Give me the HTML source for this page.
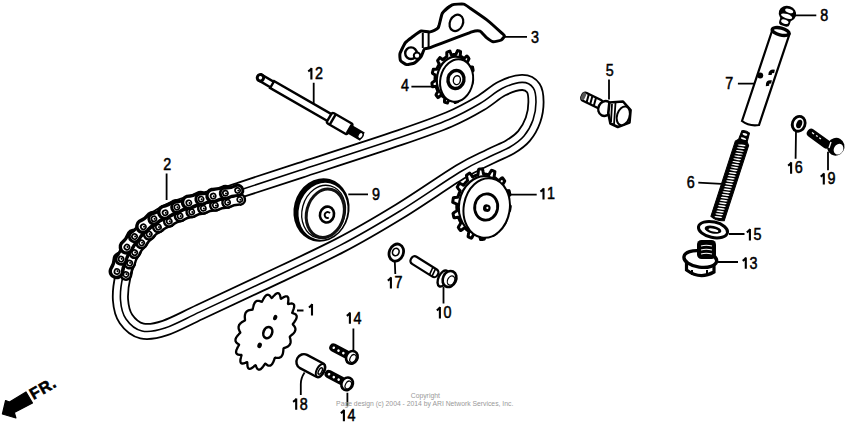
<!DOCTYPE html>
<html><head><meta charset="utf-8"><style>
html,body{margin:0;padding:0;background:#fff;}
body{width:850px;height:428px;overflow:hidden;}
svg{display:block;}
.lb{font-family:"Liberation Sans",sans-serif;font-weight:normal;font-size:15.6px;fill:#000;stroke:#000;stroke-width:0.5px;}
.fr{font-family:"Liberation Sans",sans-serif;font-weight:bold;font-size:16px;fill:#000;stroke:#000;stroke-width:0.6px;letter-spacing:0.8px;}
.cp{font-family:"Liberation Sans",sans-serif;font-size:6.8px;fill:#999;}
</style></head><body>
<svg width="850" height="428" viewBox="0 0 850 428">
<rect width="850" height="428" fill="#fff"/>
<path d="M240,190 C253.5,185.6 273.3,179.1 300,170.3 C326.7,161.6 375.2,146 400,137.5 C424.8,129 435.7,125.2 449,119.5 C462.3,113.8 471.2,108.7 480,103.5 C488.8,98.3 495,92 502,88.5 C509,85 516.8,82.5 522,82.4 C527.2,82.3 531,84.7 533.3,88 C535.6,91.3 536,96.7 536,102 C536,107.3 535,114.3 533,120 C531,125.7 527.8,131.5 524,136 C520.2,140.5 515.7,143.6 510,147 C504.3,150.4 498.3,152.3 490,156.5 C481.7,160.7 475,162.9 460,172 C445,181.1 420,198.8 400,211 C380,223.2 363.3,233.3 340,245.4 C316.7,257.5 283.3,272.7 260,283.8 C236.7,294.9 215.8,304.5 200,311.9 C184.2,319.3 174.7,324.8 165,328 C155.3,331.2 148.5,332.5 142,331 C135.5,329.5 129.6,324.2 126,319 C122.4,313.8 121,307.2 120.5,300 C120,292.8 120.9,285 123,276 C125.1,267 128.3,254.8 133,246 C137.7,237.2 144.5,229 151,223 C157.5,217 164.5,213.5 172,210 C179.5,206.5 188.2,204.2 196,202 C203.8,199.8 211.7,198.5 219,196.5 C226.3,194.5 226.5,194.4 240,190 Z" fill="none" stroke="#000" stroke-width="17"/>
<path d="M240,190 C253.5,185.6 273.3,179.1 300,170.3 C326.7,161.6 375.2,146 400,137.5 C424.8,129 435.7,125.2 449,119.5 C462.3,113.8 471.2,108.7 480,103.5 C488.8,98.3 495,92 502,88.5 C509,85 516.8,82.5 522,82.4 C527.2,82.3 531,84.7 533.3,88 C535.6,91.3 536,96.7 536,102 C536,107.3 535,114.3 533,120 C531,125.7 527.8,131.5 524,136 C520.2,140.5 515.7,143.6 510,147 C504.3,150.4 498.3,152.3 490,156.5 C481.7,160.7 475,162.9 460,172 C445,181.1 420,198.8 400,211 C380,223.2 363.3,233.3 340,245.4 C316.7,257.5 283.3,272.7 260,283.8 C236.7,294.9 215.8,304.5 200,311.9 C184.2,319.3 174.7,324.8 165,328 C155.3,331.2 148.5,332.5 142,331 C135.5,329.5 129.6,324.2 126,319 C122.4,313.8 121,307.2 120.5,300 C120,292.8 120.9,285 123,276 C125.1,267 128.3,254.8 133,246 C137.7,237.2 144.5,229 151,223 C157.5,217 164.5,213.5 172,210 C179.5,206.5 188.2,204.2 196,202 C203.8,199.8 211.7,198.5 219,196.5 C226.3,194.5 226.5,194.4 240,190 Z" fill="none" stroke="#fff" stroke-width="13.4"/>
<path d="M240,190 C253.5,185.6 273.3,179.1 300,170.3 C326.7,161.6 375.2,146 400,137.5 C424.8,129 435.7,125.2 449,119.5 C462.3,113.8 471.2,108.7 480,103.5 C488.8,98.3 495,92 502,88.5 C509,85 516.8,82.5 522,82.4 C527.2,82.3 531,84.7 533.3,88 C535.6,91.3 536,96.7 536,102 C536,107.3 535,114.3 533,120 C531,125.7 527.8,131.5 524,136 C520.2,140.5 515.7,143.6 510,147 C504.3,150.4 498.3,152.3 490,156.5 C481.7,160.7 475,162.9 460,172 C445,181.1 420,198.8 400,211 C380,223.2 363.3,233.3 340,245.4 C316.7,257.5 283.3,272.7 260,283.8 C236.7,294.9 215.8,304.5 200,311.9 C184.2,319.3 174.7,324.8 165,328 C155.3,331.2 148.5,332.5 142,331 C135.5,329.5 129.6,324.2 126,319 C122.4,313.8 121,307.2 120.5,300 C120,292.8 120.9,285 123,276 C125.1,267 128.3,254.8 133,246 C137.7,237.2 144.5,229 151,223 C157.5,217 164.5,213.5 172,210 C179.5,206.5 188.2,204.2 196,202 C203.8,199.8 211.7,198.5 219,196.5 C226.3,194.5 226.5,194.4 240,190 Z" fill="none" stroke="#000" stroke-width="1.6"/>
<g><g transform="translate(121.5,273) rotate(-71.8)"><path d="M0,-0.5 C4.2,0.7 8.3,0.7 12.5,-0.5 A5.2,5.2 0 0 1 12.5,9.9 C8.3,8.7 4.2,8.7 0,9.9 A5.2,5.2 0 0 1 0,-0.5 Z" fill="#fff" stroke="#000" stroke-width="2.5"/></g><g transform="translate(125.4,261.1) rotate(-64.3)"><path d="M0,-0.5 C4.2,0.7 8.3,0.7 12.5,-0.5 A5.2,5.2 0 0 1 12.5,9.9 C8.3,8.7 4.2,8.7 0,9.9 A5.2,5.2 0 0 1 0,-0.5 Z" fill="#fff" stroke="#000" stroke-width="2.5"/></g><g transform="translate(130.8,249.9) rotate(-54.5)"><path d="M0,-0.5 C4.2,0.7 8.3,0.7 12.5,-0.5 A5.2,5.2 0 0 1 12.5,9.9 C8.3,8.7 4.2,8.7 0,9.9 A5.2,5.2 0 0 1 0,-0.5 Z" fill="#fff" stroke="#000" stroke-width="2.5"/></g><g transform="translate(138.1,239.7) rotate(-48)"><path d="M0,-0.5 C4.1,0.7 8.2,0.7 12.4,-0.5 A5.2,5.2 0 0 1 12.4,9.9 C8.2,8.7 4.1,8.7 0,9.9 A5.2,5.2 0 0 1 0,-0.5 Z" fill="#fff" stroke="#000" stroke-width="2.5"/></g><g transform="translate(146.3,230.5) rotate(-37.7)"><path d="M0,-0.5 C4.2,0.7 8.3,0.7 12.5,-0.5 A5.2,5.2 0 0 1 12.5,9.9 C8.3,8.7 4.2,8.7 0,9.9 A5.2,5.2 0 0 1 0,-0.5 Z" fill="#fff" stroke="#000" stroke-width="2.5"/></g><g transform="translate(156.2,222.9) rotate(-28.1)"><path d="M0,-0.5 C4.2,0.7 8.3,0.7 12.5,-0.5 A5.2,5.2 0 0 1 12.5,9.9 C8.3,8.7 4.2,8.7 0,9.9 A5.2,5.2 0 0 1 0,-0.5 Z" fill="#fff" stroke="#000" stroke-width="2.5"/></g><g transform="translate(167.2,217) rotate(-25.4)"><path d="M0,-0.5 C4.2,0.7 8.3,0.7 12.5,-0.5 A5.2,5.2 0 0 1 12.5,9.9 C8.3,8.7 4.2,8.7 0,9.9 A5.2,5.2 0 0 1 0,-0.5 Z" fill="#fff" stroke="#000" stroke-width="2.5"/></g><g transform="translate(178.5,211.6) rotate(-19.7)"><path d="M0,-0.5 C4.2,0.7 8.3,0.7 12.5,-0.5 A5.2,5.2 0 0 1 12.5,9.9 C8.3,8.7 4.2,8.7 0,9.9 A5.2,5.2 0 0 1 0,-0.5 Z" fill="#fff" stroke="#000" stroke-width="2.5"/></g><g transform="translate(190.3,207.4) rotate(-17.3)"><path d="M0,-0.5 C4.2,0.7 8.3,0.7 12.5,-0.5 A5.2,5.2 0 0 1 12.5,9.9 C8.3,8.7 4.2,8.7 0,9.9 A5.2,5.2 0 0 1 0,-0.5 Z" fill="#fff" stroke="#000" stroke-width="2.5"/></g><g transform="translate(202.2,203.7) rotate(-14)"><path d="M0,-0.5 C4.2,0.7 8.3,0.7 12.5,-0.5 A5.2,5.2 0 0 1 12.5,9.9 C8.3,8.7 4.2,8.7 0,9.9 A5.2,5.2 0 0 1 0,-0.5 Z" fill="#fff" stroke="#000" stroke-width="2.5"/></g><g transform="translate(214.3,200.7) rotate(-13.4)"><path d="M0,-0.5 C4.2,0.7 8.3,0.7 12.5,-0.5 A5.2,5.2 0 0 1 12.5,9.9 C8.3,8.7 4.2,8.7 0,9.9 A5.2,5.2 0 0 1 0,-0.5 Z" fill="#fff" stroke="#000" stroke-width="2.5"/></g><g transform="translate(226.5,197.8) rotate(-13)"><path d="M0,-0.5 C4.2,0.7 8.3,0.7 12.5,-0.5 A5.2,5.2 0 0 1 12.5,9.9 C8.3,8.7 4.2,8.7 0,9.9 A5.2,5.2 0 0 1 0,-0.5 Z" fill="#fff" stroke="#000" stroke-width="2.5"/></g><g transform="translate(121.5,273) rotate(-71.8)"><path d="M0,-11.5 C4.2,-10.3 8.3,-10.3 12.5,-11.5 A6.2,6.2 0 0 1 12.5,0.9 C8.3,-0.3 4.2,-0.3 0,0.9 A6.2,6.2 0 0 1 0,-11.5 Z" fill="#fff" stroke="#000" stroke-width="3.4"/></g><g transform="translate(125.4,261.1) rotate(-64.3)"><path d="M0,-9.9 C4.2,-8.7 8.3,-8.7 12.5,-9.9 A5.2,5.2 0 0 1 12.5,0.5 C8.3,-0.7 4.2,-0.7 0,0.5 A5.2,5.2 0 0 1 0,-9.9 Z" fill="#fff" stroke="#000" stroke-width="3"/></g><g transform="translate(130.8,249.9) rotate(-54.5)"><path d="M0,-11.5 C4.2,-10.3 8.3,-10.3 12.5,-11.5 A6.2,6.2 0 0 1 12.5,0.9 C8.3,-0.3 4.2,-0.3 0,0.9 A6.2,6.2 0 0 1 0,-11.5 Z" fill="#fff" stroke="#000" stroke-width="3.4"/></g><g transform="translate(138.1,239.7) rotate(-48)"><path d="M0,-9.9 C4.1,-8.7 8.2,-8.7 12.4,-9.9 A5.2,5.2 0 0 1 12.4,0.5 C8.2,-0.7 4.1,-0.7 0,0.5 A5.2,5.2 0 0 1 0,-9.9 Z" fill="#fff" stroke="#000" stroke-width="3"/></g><g transform="translate(146.3,230.5) rotate(-37.7)"><path d="M0,-11.5 C4.2,-10.3 8.3,-10.3 12.5,-11.5 A6.2,6.2 0 0 1 12.5,0.9 C8.3,-0.3 4.2,-0.3 0,0.9 A6.2,6.2 0 0 1 0,-11.5 Z" fill="#fff" stroke="#000" stroke-width="3.4"/></g><g transform="translate(156.2,222.9) rotate(-28.1)"><path d="M0,-9.9 C4.2,-8.7 8.3,-8.7 12.5,-9.9 A5.2,5.2 0 0 1 12.5,0.5 C8.3,-0.7 4.2,-0.7 0,0.5 A5.2,5.2 0 0 1 0,-9.9 Z" fill="#fff" stroke="#000" stroke-width="3"/></g><g transform="translate(167.2,217) rotate(-25.4)"><path d="M0,-11.5 C4.2,-10.3 8.3,-10.3 12.5,-11.5 A6.2,6.2 0 0 1 12.5,0.9 C8.3,-0.3 4.2,-0.3 0,0.9 A6.2,6.2 0 0 1 0,-11.5 Z" fill="#fff" stroke="#000" stroke-width="3.4"/></g><g transform="translate(178.5,211.6) rotate(-19.7)"><path d="M0,-9.9 C4.2,-8.7 8.3,-8.7 12.5,-9.9 A5.2,5.2 0 0 1 12.5,0.5 C8.3,-0.7 4.2,-0.7 0,0.5 A5.2,5.2 0 0 1 0,-9.9 Z" fill="#fff" stroke="#000" stroke-width="3"/></g><g transform="translate(190.3,207.4) rotate(-17.3)"><path d="M0,-11.5 C4.2,-10.3 8.3,-10.3 12.5,-11.5 A6.2,6.2 0 0 1 12.5,0.9 C8.3,-0.3 4.2,-0.3 0,0.9 A6.2,6.2 0 0 1 0,-11.5 Z" fill="#fff" stroke="#000" stroke-width="3.4"/></g><g transform="translate(202.2,203.7) rotate(-14)"><path d="M0,-9.9 C4.2,-8.7 8.3,-8.7 12.5,-9.9 A5.2,5.2 0 0 1 12.5,0.5 C8.3,-0.7 4.2,-0.7 0,0.5 A5.2,5.2 0 0 1 0,-9.9 Z" fill="#fff" stroke="#000" stroke-width="3"/></g><g transform="translate(214.3,200.7) rotate(-13.4)"><path d="M0,-11.5 C4.2,-10.3 8.3,-10.3 12.5,-11.5 A6.2,6.2 0 0 1 12.5,0.9 C8.3,-0.3 4.2,-0.3 0,0.9 A6.2,6.2 0 0 1 0,-11.5 Z" fill="#fff" stroke="#000" stroke-width="3.4"/></g><g transform="translate(226.5,197.8) rotate(-13)"><path d="M0,-9.9 C4.2,-8.7 8.3,-8.7 12.5,-9.9 A5.2,5.2 0 0 1 12.5,0.5 C8.3,-0.7 4.2,-0.7 0,0.5 A5.2,5.2 0 0 1 0,-9.9 Z" fill="#fff" stroke="#000" stroke-width="3"/></g><g transform="translate(121.5,273) rotate(-71.8)"><circle cx="0" cy="-4.7" r="2.6" fill="#fff" stroke="#000" stroke-width="1.7"/><circle cx="0.5" cy="-4.4" r="1.0" fill="#000"/></g><g transform="translate(121.5,273) rotate(-71.8)"><circle cx="0" cy="4.7" r="2.6" fill="#fff" stroke="#000" stroke-width="1.7"/><circle cx="0.5" cy="5" r="1.0" fill="#000"/></g><g transform="translate(125.4,261.1) rotate(-64.3)"><circle cx="0" cy="-4.7" r="2.6" fill="#fff" stroke="#000" stroke-width="1.7"/><circle cx="0.5" cy="-4.4" r="1.0" fill="#000"/></g><g transform="translate(125.4,261.1) rotate(-64.3)"><circle cx="0" cy="4.7" r="2.6" fill="#fff" stroke="#000" stroke-width="1.7"/><circle cx="0.5" cy="5" r="1.0" fill="#000"/></g><g transform="translate(130.8,249.9) rotate(-54.5)"><circle cx="0" cy="-4.7" r="2.6" fill="#fff" stroke="#000" stroke-width="1.7"/><circle cx="0.5" cy="-4.4" r="1.0" fill="#000"/></g><g transform="translate(130.8,249.9) rotate(-54.5)"><circle cx="0" cy="4.7" r="2.6" fill="#fff" stroke="#000" stroke-width="1.7"/><circle cx="0.5" cy="5" r="1.0" fill="#000"/></g><g transform="translate(138.1,239.7) rotate(-48)"><circle cx="0" cy="-4.7" r="2.6" fill="#fff" stroke="#000" stroke-width="1.7"/><circle cx="0.5" cy="-4.4" r="1.0" fill="#000"/></g><g transform="translate(138.1,239.7) rotate(-48)"><circle cx="0" cy="4.7" r="2.6" fill="#fff" stroke="#000" stroke-width="1.7"/><circle cx="0.5" cy="5" r="1.0" fill="#000"/></g><g transform="translate(146.3,230.5) rotate(-37.7)"><circle cx="0" cy="-4.7" r="2.6" fill="#fff" stroke="#000" stroke-width="1.7"/><circle cx="0.5" cy="-4.4" r="1.0" fill="#000"/></g><g transform="translate(146.3,230.5) rotate(-37.7)"><circle cx="0" cy="4.7" r="2.6" fill="#fff" stroke="#000" stroke-width="1.7"/><circle cx="0.5" cy="5" r="1.0" fill="#000"/></g><g transform="translate(156.2,222.9) rotate(-28.1)"><circle cx="0" cy="-4.7" r="2.6" fill="#fff" stroke="#000" stroke-width="1.7"/><circle cx="0.5" cy="-4.4" r="1.0" fill="#000"/></g><g transform="translate(156.2,222.9) rotate(-28.1)"><circle cx="0" cy="4.7" r="2.6" fill="#fff" stroke="#000" stroke-width="1.7"/><circle cx="0.5" cy="5" r="1.0" fill="#000"/></g><g transform="translate(167.2,217) rotate(-25.4)"><circle cx="0" cy="-4.7" r="2.6" fill="#fff" stroke="#000" stroke-width="1.7"/><circle cx="0.5" cy="-4.4" r="1.0" fill="#000"/></g><g transform="translate(167.2,217) rotate(-25.4)"><circle cx="0" cy="4.7" r="2.6" fill="#fff" stroke="#000" stroke-width="1.7"/><circle cx="0.5" cy="5" r="1.0" fill="#000"/></g><g transform="translate(178.5,211.6) rotate(-19.7)"><circle cx="0" cy="-4.7" r="2.6" fill="#fff" stroke="#000" stroke-width="1.7"/><circle cx="0.5" cy="-4.4" r="1.0" fill="#000"/></g><g transform="translate(178.5,211.6) rotate(-19.7)"><circle cx="0" cy="4.7" r="2.6" fill="#fff" stroke="#000" stroke-width="1.7"/><circle cx="0.5" cy="5" r="1.0" fill="#000"/></g><g transform="translate(190.3,207.4) rotate(-17.3)"><circle cx="0" cy="-4.7" r="2.6" fill="#fff" stroke="#000" stroke-width="1.7"/><circle cx="0.5" cy="-4.4" r="1.0" fill="#000"/></g><g transform="translate(190.3,207.4) rotate(-17.3)"><circle cx="0" cy="4.7" r="2.6" fill="#fff" stroke="#000" stroke-width="1.7"/><circle cx="0.5" cy="5" r="1.0" fill="#000"/></g><g transform="translate(202.2,203.7) rotate(-14)"><circle cx="0" cy="-4.7" r="2.6" fill="#fff" stroke="#000" stroke-width="1.7"/><circle cx="0.5" cy="-4.4" r="1.0" fill="#000"/></g><g transform="translate(202.2,203.7) rotate(-14)"><circle cx="0" cy="4.7" r="2.6" fill="#fff" stroke="#000" stroke-width="1.7"/><circle cx="0.5" cy="5" r="1.0" fill="#000"/></g><g transform="translate(214.3,200.7) rotate(-13.4)"><circle cx="0" cy="-4.7" r="2.6" fill="#fff" stroke="#000" stroke-width="1.7"/><circle cx="0.5" cy="-4.4" r="1.0" fill="#000"/></g><g transform="translate(214.3,200.7) rotate(-13.4)"><circle cx="0" cy="4.7" r="2.6" fill="#fff" stroke="#000" stroke-width="1.7"/><circle cx="0.5" cy="5" r="1.0" fill="#000"/></g><g transform="translate(226.5,197.8) rotate(-13)"><circle cx="0" cy="-4.7" r="2.6" fill="#fff" stroke="#000" stroke-width="1.7"/><circle cx="0.5" cy="-4.4" r="1.0" fill="#000"/></g><g transform="translate(226.5,197.8) rotate(-13)"><circle cx="0" cy="4.7" r="2.6" fill="#fff" stroke="#000" stroke-width="1.7"/><circle cx="0.5" cy="5" r="1.0" fill="#000"/></g><g transform="translate(238.7,195) rotate(-13)"><circle cx="0" cy="-4.7" r="2.6" fill="#fff" stroke="#000" stroke-width="1.7"/><circle cx="0.5" cy="-4.4" r="1.0" fill="#000"/></g><g transform="translate(238.7,195) rotate(-13)"><circle cx="0" cy="4.7" r="2.6" fill="#fff" stroke="#000" stroke-width="1.7"/><circle cx="0.5" cy="5" r="1.0" fill="#000"/></g></g>
<g transform="translate(260,77.5) rotate(30)" stroke="#000" stroke-width="2.4" fill="#fff"><rect x="0" y="-3.2" width="15" height="6.4"/><rect x="14" y="-4" width="68" height="8"/><rect x="80" y="-6" width="24" height="12" rx="2"/><rect x="103" y="-3.6" width="14" height="7.2" fill="#000"/><ellipse cx="116" cy="0" rx="2.4" ry="3.4" fill="#fff" stroke-width="1.4"/><circle cx="0.5" cy="0" r="3.2" stroke-width="3"/><line x1="84" y1="-6" x2="84" y2="6"/></g>
<g transform="translate(321.5,210) rotate(15)"><ellipse cx="0" cy="0" rx="27.8" ry="32" fill="#000"/><ellipse cx="1.8" cy="0.8" rx="24.2" ry="28.8" fill="#fff"/><ellipse cx="2.5" cy="1.2" rx="21.5" ry="26.8" fill="none" stroke="#000" stroke-width="1.3"/><ellipse cx="4.5" cy="2.2" rx="18.6" ry="24.6" fill="none" stroke="#111" stroke-width="3"/><ellipse cx="6.5" cy="3" rx="7" ry="8" fill="#fff" stroke="#000" stroke-width="2.6"/><path d="M9,1 A2.8,3 0 1 0 9,5.5" fill="none" stroke="#000" stroke-width="1.8"/></g>
<path d="M472.5,81.1 L472.5,81.2 L472.4,81.4 L472.4,81.6 L472.4,81.8 L472.3,82 L472.3,82.1 L472.2,82.3 L472.2,82.5 L472.1,82.7 L472.1,82.9 L472,83 L472,83.2 L471.9,83.4 L471.9,83.6 L471.8,83.8 L471.8,83.9 L471.7,84.1 L471.7,84.3 L471.3,84.4 L470.9,84.4 L470.5,84.4 L470.1,84.4 L469.7,84.4 L469.2,84.4 L468.8,84.4 L468.3,84.3 L468.2,84.4 L468.1,84.6 L468,84.7 L468,84.9 L467.9,85 L467.9,85.1 L467.8,85.3 L467.8,85.4 L467.7,85.6 L467.6,85.7 L467.6,85.9 L467.5,86 L467.5,86.1 L467.4,86.3 L467.3,86.4 L467.3,86.6 L467.2,86.7 L467.1,86.8 L467.1,87 L467,87.1 L466.9,87.2 L466.9,87.4 L466.8,87.5 L466.7,87.7 L466.6,87.8 L466.6,87.9 L466.5,88.1 L466.4,88.2 L466.4,88.3 L466.3,88.5 L466.2,88.6 L466.1,88.7 L466.1,88.8 L466,89 L465.9,89.1 L465.8,89.2 L465.7,89.4 L465.7,89.6 L466,90 L466.2,90.5 L466.5,90.9 L466.7,91.4 L466.9,91.8 L467.1,92.3 L467.3,92.7 L467.4,93.1 L467.3,93.2 L467.2,93.4 L467.1,93.5 L467,93.7 L466.9,93.8 L466.8,93.9 L466.6,94.1 L466.5,94.2 L466.4,94.4 L466.3,94.5 L466.2,94.6 L466.1,94.8 L466,94.9 L465.9,95 L465.8,95.2 L465.7,95.3 L465.6,95.4 L465.4,95.6 L465.3,95.7 L465.2,95.8 L465.1,96 L464.8,95.8 L464.5,95.6 L464.1,95.3 L463.8,95.1 L463.4,94.8 L463.1,94.5 L462.7,94.2 L462.4,93.8 L462.2,93.8 L462.1,93.9 L462,94 L461.9,94.1 L461.8,94.2 L461.7,94.3 L461.6,94.4 L461.5,94.5 L461.4,94.6 L461.3,94.7 L461.2,94.8 L461.1,94.9 L460.9,95 L460.8,95 L460.7,95.1 L460.6,95.2 L460.5,95.3 L460.4,95.4 L460.3,95.5 L460.2,95.6 L460.1,95.6 L460,95.7 L459.9,95.8 L459.7,95.9 L459.6,96 L459.5,96 L459.4,96.1 L459.3,96.2 L459.2,96.3 L459.1,96.3 L459,96.4 L458.8,96.5 L458.7,96.6 L458.6,96.6 L458.5,96.7 L458.4,96.8 L458.3,96.8 L458.2,97 L458.2,97.6 L458.2,98.2 L458.2,98.8 L458.2,99.3 L458.2,99.9 L458.2,100.4 L458.2,100.9 L458.1,101.3 L458,101.4 L457.9,101.4 L457.7,101.5 L457.6,101.6 L457.4,101.6 L457.3,101.7 L457.1,101.8 L457,101.8 L456.9,101.9 L456.7,101.9 L456.6,102 L456.4,102 L456.3,102.1 L456.2,102.2 L456,102.2 L455.9,102.3 L455.7,102.3 L455.6,102.4 L455.4,102.4 L455.3,102.4 L455.1,102.5 L455,102.2 L454.8,101.7 L454.6,101.3 L454.4,100.8 L454.3,100.3 L454.1,99.8 L453.9,99.3 L453.8,98.8 L453.6,98.7 L453.5,98.7 L453.4,98.7 L453.3,98.7 L453.1,98.8 L453,98.8 L452.9,98.8 L452.8,98.8 L452.7,98.8 L452.5,98.9 L452.4,98.9 L452.3,98.9 L452.2,98.9 L452.1,98.9 L451.9,98.9 L451.8,98.9 L451.7,99 L451.6,99 L451.4,99 L451.3,99 L451.2,99 L451.1,99 L451,99 L450.8,99 L450.7,99 L450.6,99 L450.5,99 L450.4,99 L450.2,99 L450.1,99 L450,99 L449.9,99 L449.7,99 L449.6,99 L449.5,99 L449.4,98.9 L449.3,98.9 L449.1,99.1 L448.9,99.6 L448.7,100.2 L448.5,100.7 L448.3,101.2 L448,101.7 L447.8,102.2 L447.6,102.6 L447.4,103 L447.2,102.9 L447.1,102.9 L447,102.9 L446.8,102.8 L446.7,102.8 L446.5,102.8 L446.4,102.7 L446.3,102.7 L446.1,102.7 L446,102.6 L445.8,102.6 L445.7,102.6 L445.6,102.5 L445.4,102.5 L445.3,102.4 L445.2,102.4 L445,102.3 L444.9,102.3 L444.8,102.2 L444.6,102.2 L444.5,102.1 L444.5,101.7 L444.5,101.2 L444.5,100.7 L444.6,100.1 L444.6,99.6 L444.7,99 L444.8,98.4 L444.8,97.8 L444.8,97.7 L444.7,97.6 L444.6,97.5 L444.4,97.5 L444.3,97.4 L444.2,97.4 L444.1,97.3 L444,97.3 L443.9,97.2 L443.8,97.1 L443.7,97.1 L443.6,97 L443.5,96.9 L443.4,96.9 L443.3,96.8 L443.2,96.7 L443.1,96.7 L443,96.6 L442.9,96.5 L442.8,96.5 L442.7,96.4 L442.6,96.3 L442.5,96.2 L442.4,96.2 L442.3,96.1 L442.2,96 L442.1,95.9 L442,95.9 L441.9,95.8 L441.8,95.7 L441.7,95.6 L441.6,95.5 L441.5,95.4 L441.4,95.4 L441.3,95.3 L441.2,95.2 L441.1,95.1 L441,95.1 L440.6,95.5 L440.2,95.9 L439.8,96.2 L439.4,96.5 L439,96.9 L438.7,97.2 L438.3,97.4 L438,97.6 L437.9,97.5 L437.8,97.4 L437.7,97.3 L437.6,97.1 L437.5,97 L437.4,96.9 L437.3,96.8 L437.2,96.7 L437.1,96.5 L437,96.4 L436.9,96.3 L436.8,96.2 L436.7,96 L436.6,95.9 L436.5,95.8 L436.4,95.7 L436.3,95.5 L436.2,95.4 L436.2,95.3 L436.1,95.1 L436,95 L436.1,94.6 L436.3,94.2 L436.6,93.7 L436.8,93.2 L437.1,92.7 L437.4,92.2 L437.7,91.7 L438,91.3 L438,91 L437.9,90.9 L437.8,90.8 L437.8,90.7 L437.7,90.6 L437.7,90.4 L437.6,90.3 L437.5,90.2 L437.5,90.1 L437.4,90 L437.3,89.8 L437.3,89.7 L437.2,89.6 L437.2,89.4 L437.1,89.3 L437,89.2 L437,89.1 L436.9,88.9 L436.9,88.8 L436.8,88.7 L436.8,88.5 L436.7,88.4 L436.7,88.3 L436.6,88.1 L436.6,88 L436.5,87.9 L436.5,87.7 L436.4,87.6 L436.4,87.5 L436.3,87.3 L436.3,87.2 L436.2,87.1 L436.2,86.9 L436.2,86.8 L436.1,86.6 L436.1,86.5 L436,86.4 L435.9,86.3 L435.4,86.4 L435,86.5 L434.5,86.5 L434.1,86.6 L433.6,86.6 L433.2,86.7 L432.8,86.7 L432.5,86.7 L432.5,86.5 L432.4,86.3 L432.4,86.2 L432.4,86 L432.3,85.8 L432.3,85.6 L432.3,85.5 L432.2,85.3 L432.2,85.1 L432.2,84.9 L432.1,84.8 L432.1,84.6 L432.1,84.4 L432,84.2 L432,84.1 L432,83.9 L432,83.7 L432,83.5 L431.9,83.3 L431.9,83.2 L431.9,83 L432.2,82.7 L432.5,82.4 L432.9,82.2 L433.3,81.9 L433.7,81.6 L434.1,81.3 L434.5,81.1 L435,80.8 L435.1,80.6 L435.1,80.5 L435.1,80.3 L435.1,80.2 L435.1,80 L435.1,79.9 L435,79.7 L435,79.6 L435,79.4 L435,79.2 L435,79.1 L435,78.9 L435,78.8 L435,78.6 L435.1,78.5 L435.1,78.3 L435.1,78.2 L435.1,78 L435.1,77.9 L435.1,77.7 L435.1,77.5 L435.1,77.4 L435.1,77.2 L435.1,77.1 L435.1,76.9 L435.1,76.8 L435.2,76.6 L435.2,76.5 L435.2,76.3 L435.2,76.2 L435.2,76 L435.2,75.8 L435.3,75.7 L435.3,75.5 L435.3,75.4 L435.3,75.2 L435.3,75.1 L435.3,74.9 L434.8,74.7 L434.4,74.5 L434,74.3 L433.7,74 L433.3,73.8 L432.9,73.6 L432.6,73.3 L432.4,73.1 L432.4,72.9 L432.4,72.7 L432.5,72.5 L432.5,72.4 L432.6,72.2 L432.6,72 L432.6,71.8 L432.7,71.6 L432.7,71.5 L432.8,71.3 L432.8,71.1 L432.9,70.9 L432.9,70.7 L433,70.6 L433,70.4 L433.1,70.2 L433.1,70 L433.2,69.8 L433.2,69.7 L433.3,69.5 L433.3,69.3 L433.7,69.2 L434.1,69.2 L434.5,69.2 L434.9,69.2 L435.3,69.2 L435.8,69.2 L436.2,69.2 L436.7,69.3 L436.8,69.2 L436.9,69 L437,68.9 L437,68.7 L437.1,68.6 L437.1,68.5 L437.2,68.3 L437.2,68.2 L437.3,68 L437.4,67.9 L437.4,67.7 L437.5,67.6 L437.5,67.5 L437.6,67.3 L437.7,67.2 L437.7,67 L437.8,66.9 L437.9,66.8 L437.9,66.6 L438,66.5 L438.1,66.4 L438.1,66.2 L438.2,66.1 L438.3,65.9 L438.4,65.8 L438.4,65.7 L438.5,65.5 L438.6,65.4 L438.6,65.3 L438.7,65.1 L438.8,65 L438.9,64.9 L438.9,64.8 L439,64.6 L439.1,64.5 L439.2,64.4 L439.3,64.2 L439.3,64 L439,63.6 L438.8,63.1 L438.5,62.7 L438.3,62.2 L438.1,61.8 L437.9,61.3 L437.7,60.9 L437.6,60.5 L437.7,60.4 L437.8,60.2 L437.9,60.1 L438,59.9 L438.1,59.8 L438.2,59.7 L438.4,59.5 L438.5,59.4 L438.6,59.2 L438.7,59.1 L438.8,59 L438.9,58.8 L439,58.7 L439.1,58.6 L439.2,58.4 L439.3,58.3 L439.4,58.2 L439.6,58 L439.7,57.9 L439.8,57.8 L439.9,57.6 L440.2,57.8 L440.5,58 L440.9,58.3 L441.2,58.5 L441.6,58.8 L441.9,59.1 L442.3,59.4 L442.6,59.8 L442.8,59.8 L442.9,59.7 L443,59.6 L443.1,59.5 L443.2,59.4 L443.3,59.3 L443.4,59.2 L443.5,59.1 L443.6,59 L443.7,58.9 L443.8,58.8 L443.9,58.7 L444.1,58.6 L444.2,58.6 L444.3,58.5 L444.4,58.4 L444.5,58.3 L444.6,58.2 L444.7,58.1 L444.8,58 L444.9,58 L445,57.9 L445.1,57.8 L445.3,57.7 L445.4,57.6 L445.5,57.6 L445.6,57.5 L445.7,57.4 L445.8,57.3 L445.9,57.3 L446,57.2 L446.2,57.1 L446.3,57 L446.4,57 L446.5,56.9 L446.6,56.8 L446.7,56.8 L446.8,56.6 L446.8,56 L446.8,55.4 L446.8,54.8 L446.8,54.3 L446.8,53.7 L446.8,53.2 L446.8,52.7 L446.9,52.3 L447,52.2 L447.1,52.2 L447.3,52.1 L447.4,52 L447.6,52 L447.7,51.9 L447.9,51.8 L448,51.8 L448.1,51.7 L448.3,51.7 L448.4,51.6 L448.6,51.6 L448.7,51.5 L448.8,51.4 L449,51.4 L449.1,51.3 L449.3,51.3 L449.4,51.2 L449.6,51.2 L449.7,51.2 L449.9,51.1 L450,51.4 L450.2,51.9 L450.4,52.3 L450.6,52.8 L450.7,53.3 L450.9,53.8 L451.1,54.3 L451.2,54.8 L451.4,54.9 L451.5,54.9 L451.6,54.9 L451.7,54.9 L451.9,54.8 L452,54.8 L452.1,54.8 L452.2,54.8 L452.3,54.8 L452.5,54.7 L452.6,54.7 L452.7,54.7 L452.8,54.7 L452.9,54.7 L453.1,54.7 L453.2,54.7 L453.3,54.6 L453.4,54.6 L453.6,54.6 L453.7,54.6 L453.8,54.6 L453.9,54.6 L454,54.6 L454.2,54.6 L454.3,54.6 L454.4,54.6 L454.5,54.6 L454.6,54.6 L454.8,54.6 L454.9,54.6 L455,54.6 L455.1,54.6 L455.3,54.6 L455.4,54.6 L455.5,54.6 L455.6,54.7 L455.7,54.7 L455.9,54.5 L456.1,54 L456.3,53.4 L456.5,52.9 L456.7,52.4 L457,51.9 L457.2,51.4 L457.4,51 L457.6,50.6 L457.8,50.7 L457.9,50.7 L458,50.7 L458.2,50.8 L458.3,50.8 L458.5,50.8 L458.6,50.9 L458.7,50.9 L458.9,50.9 L459,51 L459.2,51 L459.3,51 L459.4,51.1 L459.6,51.1 L459.7,51.2 L459.8,51.2 L460,51.3 L460.1,51.3 L460.2,51.4 L460.4,51.4 L460.5,51.5 L460.5,51.9 L460.5,52.4 L460.5,52.9 L460.4,53.5 L460.4,54 L460.3,54.6 L460.2,55.2 L460.2,55.8 L460.2,55.9 L460.3,56 L460.4,56.1 L460.6,56.1 L460.7,56.2 L460.8,56.2 L460.9,56.3 L461,56.3 L461.1,56.4 L461.2,56.5 L461.3,56.5 L461.4,56.6 L461.5,56.7 L461.6,56.7 L461.7,56.8 L461.8,56.9 L461.9,56.9 L462,57 L462.1,57.1 L462.2,57.1 L462.3,57.2 L462.4,57.3 L462.5,57.4 L462.6,57.4 L462.7,57.5 L462.8,57.6 L462.9,57.7 L463,57.7 L463.1,57.8 L463.2,57.9 L463.3,58 L463.4,58.1 L463.5,58.2 L463.6,58.2 L463.7,58.3 L463.8,58.4 L463.9,58.5 L464,58.5 L464.4,58.1 L464.8,57.7 L465.2,57.4 L465.6,57.1 L466,56.7 L466.3,56.4 L466.7,56.2 L467,56 L467.1,56.1 L467.2,56.2 L467.3,56.3 L467.4,56.5 L467.5,56.6 L467.6,56.7 L467.7,56.8 L467.8,56.9 L467.9,57.1 L468,57.2 L468.1,57.3 L468.2,57.4 L468.3,57.6 L468.4,57.7 L468.5,57.8 L468.6,57.9 L468.7,58.1 L468.8,58.2 L468.8,58.3 L468.9,58.5 L469,58.6 L468.9,59 L468.7,59.4 L468.4,59.9 L468.2,60.4 L467.9,60.9 L467.6,61.4 L467.3,61.9 L467,62.3 L467,62.6 L467.1,62.7 L467.2,62.8 L467.2,62.9 L467.3,63 L467.3,63.2 L467.4,63.3 L467.5,63.4 L467.5,63.5 L467.6,63.6 L467.7,63.8 L467.7,63.9 L467.8,64 L467.8,64.2 L467.9,64.3 L468,64.4 L468,64.5 L468.1,64.7 L468.1,64.8 L468.2,64.9 L468.2,65.1 L468.3,65.2 L468.3,65.3 L468.4,65.5 L468.4,65.6 L468.5,65.7 L468.5,65.9 L468.6,66 L468.6,66.1 L468.7,66.3 L468.7,66.4 L468.8,66.5 L468.8,66.7 L468.8,66.8 L468.9,67 L468.9,67.1 L469,67.2 L469.1,67.3 L469.6,67.2 L470,67.1 L470.5,67.1 L470.9,67 L471.4,67 L471.8,66.9 L472.2,66.9 L472.5,66.9 L472.5,67.1 L472.6,67.3 L472.6,67.4 L472.6,67.6 L472.7,67.8 L472.7,68 L472.7,68.1 L472.8,68.3 L472.8,68.5 L472.8,68.7 L472.9,68.8 L472.9,69 L472.9,69.2 L473,69.4 L473,69.5 L473,69.7 L473,69.9 L473,70.1 L473.1,70.3 L473.1,70.4 L473.1,70.6 L472.8,70.9 L472.5,71.2 L472.1,71.4 L471.7,71.7 L471.3,72 L470.9,72.3 L470.5,72.5 L470,72.8 L469.9,73 L469.9,73.1 L469.9,73.3 L469.9,73.4 L469.9,73.6 L469.9,73.7 L470,73.9 L470,74 L470,74.2 L470,74.4 L470,74.5 L470,74.7 L470,74.8 L470,75 L469.9,75.1 L469.9,75.3 L469.9,75.4 L469.9,75.6 L469.9,75.7 L469.9,75.9 L469.9,76.1 L469.9,76.2 L469.9,76.4 L469.9,76.5 L469.9,76.7 L469.9,76.8 L469.8,77 L469.8,77.1 L469.8,77.3 L469.8,77.4 L469.8,77.6 L469.8,77.8 L469.7,77.9 L469.7,78.1 L469.7,78.2 L469.7,78.4 L469.7,78.5 L469.7,78.7 L470.2,78.9 L470.6,79.1 L471,79.3 L471.3,79.6 L471.7,79.8 L472.1,80 L472.4,80.3 L472.6,80.5 L472.6,80.7 L472.6,80.9 Z" fill="#fff" stroke="#000" stroke-width="3.0" stroke-linejoin="round"/><ellipse cx="454" cy="77.8" rx="16.7" ry="21.7" transform="rotate(12 452.5 76.8)" fill="none" stroke="#000" stroke-width="2.2"/><ellipse cx="456.6" cy="80.5" rx="16.3" ry="21.5" transform="rotate(12 456.6 80.5)" fill="#fff" stroke="#000" stroke-width="2"/>
<g transform="translate(456,79.5) rotate(12)"><ellipse cx="0" cy="0" rx="8" ry="9" fill="#fff" stroke="#000" stroke-width="3.4"/><ellipse cx="1" cy="0.5" rx="3.5" ry="4.5" fill="#fff" stroke="#000" stroke-width="1.4"/></g>
<path d="M509.9,209.2 L509.8,209.4 L509.8,209.7 L509.7,209.9 L509.7,210.2 L509.6,210.4 L509.5,210.7 L509,210.8 L508.3,210.9 L507.7,211 L507,211 L506.3,211.1 L505.7,211.1 L505.1,211.1 L505,211.3 L504.9,211.6 L504.9,211.8 L504.8,212 L504.8,212.2 L504.7,212.4 L504.7,212.6 L504.6,212.8 L504.5,213 L504.5,213.2 L504.4,213.4 L504.3,213.6 L504.3,213.8 L504.2,214 L504.1,214.2 L504.1,214.4 L504,214.6 L503.9,214.8 L503.9,215 L503.8,215.2 L503.7,215.4 L503.6,215.5 L503.6,215.7 L503.5,215.9 L503.4,216.1 L503.3,216.3 L503.2,216.5 L503.2,216.7 L503.1,216.9 L503,217.1 L502.9,217.3 L502.8,217.5 L503.3,218 L503.8,218.6 L504.3,219.2 L504.7,219.7 L505.1,220.3 L505.5,220.8 L505.8,221.3 L505.7,221.5 L505.6,221.8 L505.5,222 L505.4,222.2 L505.2,222.4 L505.1,222.6 L505,222.8 L504.9,223 L504.8,223.2 L504.6,223.4 L504.5,223.7 L504.4,223.9 L504.3,224.1 L504.1,224.3 L504,224.5 L503.9,224.7 L503.8,224.9 L503.6,225.1 L503.2,225 L502.6,224.7 L502,224.5 L501.4,224.2 L500.8,223.9 L500.2,223.6 L499.6,223.2 L499.4,223.3 L499.3,223.5 L499.2,223.6 L499.1,223.8 L498.9,223.9 L498.8,224.1 L498.7,224.3 L498.6,224.4 L498.4,224.6 L498.3,224.7 L498.2,224.9 L498.1,225 L497.9,225.2 L497.8,225.3 L497.7,225.5 L497.5,225.6 L497.4,225.8 L497.3,225.9 L497.1,226.1 L497,226.2 L496.9,226.4 L496.7,226.5 L496.6,226.6 L496.5,226.8 L496.3,226.9 L496.2,227.1 L496,227.2 L495.9,227.3 L495.8,227.5 L495.6,227.6 L495.5,227.7 L495.3,227.9 L495.5,228.5 L495.7,229.2 L495.9,230 L496.1,230.8 L496.3,231.5 L496.4,232.2 L496.5,232.9 L496.4,233.2 L496.2,233.3 L496.1,233.5 L495.9,233.6 L495.7,233.7 L495.5,233.9 L495.3,234 L495.2,234.1 L495,234.3 L494.8,234.4 L494.6,234.5 L494.4,234.7 L494.3,234.8 L494.1,234.9 L493.9,235 L493.7,235.1 L493.5,235.3 L493.3,235.4 L493.1,235.2 L492.7,234.7 L492.2,234.2 L491.8,233.6 L491.4,233 L491,232.4 L490.6,231.7 L490.3,231.5 L490.1,231.6 L490,231.7 L489.8,231.8 L489.7,231.8 L489.5,231.9 L489.3,232 L489.2,232.1 L489,232.2 L488.8,232.2 L488.7,232.3 L488.5,232.4 L488.3,232.5 L488.2,232.5 L488,232.6 L487.8,232.7 L487.7,232.8 L487.5,232.8 L487.3,232.9 L487.2,232.9 L487,233 L486.8,233.1 L486.7,233.1 L486.5,233.2 L486.3,233.2 L486.2,233.3 L486,233.4 L485.8,233.4 L485.7,233.5 L485.5,233.5 L485.3,233.6 L485.1,233.6 L485,234 L484.9,234.8 L484.8,235.7 L484.7,236.5 L484.6,237.3 L484.5,238.1 L484.4,238.8 L484.2,239.1 L484,239.2 L483.8,239.2 L483.6,239.2 L483.4,239.3 L483.2,239.3 L483,239.3 L482.8,239.4 L482.6,239.4 L482.4,239.4 L482.2,239.5 L482,239.5 L481.8,239.5 L481.5,239.5 L481.3,239.5 L481.1,239.6 L480.9,239.6 L480.7,239.6 L480.5,239.5 L480.4,238.8 L480.2,238.1 L480,237.3 L479.9,236.6 L479.7,235.7 L479.6,234.9 L479.5,234.3 L479.3,234.3 L479.1,234.3 L479,234.3 L478.8,234.3 L478.6,234.3 L478.4,234.3 L478.3,234.3 L478.1,234.3 L477.9,234.3 L477.8,234.2 L477.6,234.2 L477.4,234.2 L477.3,234.2 L477.1,234.2 L476.9,234.1 L476.7,234.1 L476.6,234.1 L476.4,234.1 L476.2,234 L476.1,234 L475.9,234 L475.7,233.9 L475.6,233.9 L475.4,233.9 L475.2,233.8 L475.1,233.8 L474.9,233.8 L474.7,233.7 L474.6,233.7 L474.4,233.6 L474.2,233.6 L474,233.6 L473.7,234.4 L473.3,235.1 L472.9,235.8 L472.5,236.5 L472.1,237.2 L471.8,237.8 L471.4,238.2 L471.2,238.2 L471.1,238.1 L470.9,238 L470.7,237.9 L470.5,237.9 L470.3,237.8 L470.1,237.7 L469.9,237.6 L469.7,237.5 L469.6,237.5 L469.4,237.4 L469.2,237.3 L469,237.2 L468.8,237.1 L468.6,237 L468.5,236.9 L468.3,236.8 L468.1,236.7 L468.2,236.1 L468.3,235.3 L468.4,234.6 L468.5,233.7 L468.7,232.9 L468.9,232.1 L469,231.3 L468.9,231.2 L468.7,231.1 L468.6,231 L468.4,230.9 L468.3,230.8 L468.2,230.7 L468,230.6 L467.9,230.5 L467.7,230.4 L467.6,230.3 L467.4,230.2 L467.3,230.1 L467.2,230 L467,229.8 L466.9,229.7 L466.7,229.6 L466.6,229.5 L466.5,229.4 L466.3,229.3 L466.2,229.2 L466.1,229 L465.9,228.9 L465.8,228.8 L465.7,228.7 L465.5,228.5 L465.4,228.4 L465.3,228.3 L465.1,228.2 L465,228 L464.9,227.9 L464.8,227.8 L464.6,227.7 L464.1,228.1 L463.5,228.6 L462.9,229 L462.3,229.5 L461.8,229.9 L461.2,230.3 L460.7,230.6 L460.5,230.5 L460.4,230.3 L460.2,230.1 L460.1,230 L460,229.8 L459.8,229.6 L459.7,229.5 L459.6,229.3 L459.4,229.1 L459.3,228.9 L459.2,228.8 L459,228.6 L458.9,228.4 L458.8,228.2 L458.7,228 L458.5,227.8 L458.4,227.7 L458.3,227.5 L458.4,227 L458.8,226.4 L459.2,225.7 L459.6,225.1 L460,224.4 L460.4,223.7 L460.9,223 L461,222.7 L460.9,222.5 L460.8,222.4 L460.7,222.2 L460.6,222 L460.5,221.9 L460.4,221.7 L460.3,221.5 L460.2,221.4 L460.1,221.2 L460,221 L460,220.8 L459.9,220.7 L459.8,220.5 L459.7,220.3 L459.6,220.1 L459.6,219.9 L459.5,219.8 L459.4,219.6 L459.3,219.4 L459.2,219.2 L459.2,219 L459.1,218.9 L459,218.7 L459,218.5 L458.9,218.3 L458.8,218.1 L458.8,217.9 L458.7,217.7 L458.6,217.5 L458.6,217.4 L458.5,217.2 L458.1,217.2 L457.4,217.3 L456.7,217.5 L456,217.6 L455.4,217.7 L454.7,217.7 L454.2,217.8 L453.9,217.6 L453.9,217.4 L453.8,217.2 L453.7,216.9 L453.7,216.7 L453.6,216.5 L453.6,216.2 L453.5,216 L453.5,215.8 L453.4,215.5 L453.4,215.3 L453.3,215.1 L453.3,214.8 L453.2,214.6 L453.2,214.4 L453.1,214.1 L453.1,213.9 L453,213.7 L453.2,213.4 L453.7,212.9 L454.2,212.5 L454.8,212.1 L455.4,211.7 L456.1,211.3 L456.7,210.9 L457.1,210.6 L457,210.4 L457,210.2 L457,210 L457,209.8 L456.9,209.6 L456.9,209.4 L456.9,209.2 L456.9,209 L456.9,208.8 L456.9,208.5 L456.9,208.3 L456.8,208.1 L456.8,207.9 L456.8,207.7 L456.8,207.5 L456.8,207.3 L456.8,207.1 L456.8,206.9 L456.8,206.7 L456.8,206.5 L456.8,206.2 L456.8,206 L456.8,205.8 L456.8,205.6 L456.8,205.4 L456.8,205.2 L456.8,205 L456.8,204.8 L456.9,204.6 L456.9,204.4 L456.9,204.1 L456.7,203.9 L456,203.7 L455.4,203.5 L454.8,203.2 L454.2,203 L453.6,202.7 L453,202.4 L452.7,202.2 L452.8,201.9 L452.8,201.7 L452.8,201.4 L452.8,201.2 L452.9,200.9 L452.9,200.7 L453,200.4 L453,200.2 L453,199.9 L453.1,199.7 L453.1,199.4 L453.1,199.2 L453.2,199 L453.2,198.7 L453.3,198.5 L453.3,198.2 L453.4,198 L453.5,197.7 L454,197.6 L454.7,197.5 L455.3,197.4 L456,197.4 L456.7,197.3 L457.3,197.3 L457.9,197.3 L458,197.1 L458.1,196.8 L458.1,196.6 L458.2,196.4 L458.2,196.2 L458.3,196 L458.3,195.8 L458.4,195.6 L458.5,195.4 L458.5,195.2 L458.6,195 L458.7,194.8 L458.7,194.6 L458.8,194.4 L458.9,194.2 L458.9,194 L459,193.8 L459.1,193.6 L459.1,193.4 L459.2,193.2 L459.3,193 L459.4,192.9 L459.4,192.7 L459.5,192.5 L459.6,192.3 L459.7,192.1 L459.8,191.9 L459.8,191.7 L459.9,191.5 L460,191.3 L460.1,191.1 L460.2,190.9 L459.7,190.4 L459.2,189.8 L458.7,189.2 L458.3,188.7 L457.9,188.1 L457.5,187.6 L457.2,187.1 L457.3,186.9 L457.4,186.6 L457.5,186.4 L457.6,186.2 L457.8,186 L457.9,185.8 L458,185.6 L458.1,185.4 L458.2,185.2 L458.4,185 L458.5,184.7 L458.6,184.5 L458.7,184.3 L458.9,184.1 L459,183.9 L459.1,183.7 L459.2,183.5 L459.4,183.3 L459.8,183.4 L460.4,183.7 L461,183.9 L461.6,184.2 L462.2,184.5 L462.8,184.8 L463.4,185.2 L463.6,185.1 L463.7,184.9 L463.8,184.8 L463.9,184.6 L464.1,184.5 L464.2,184.3 L464.3,184.1 L464.4,184 L464.6,183.8 L464.7,183.7 L464.8,183.5 L464.9,183.4 L465.1,183.2 L465.2,183.1 L465.3,182.9 L465.5,182.8 L465.6,182.6 L465.7,182.5 L465.9,182.3 L466,182.2 L466.1,182 L466.3,181.9 L466.4,181.8 L466.5,181.6 L466.7,181.5 L466.8,181.3 L467,181.2 L467.1,181.1 L467.2,180.9 L467.4,180.8 L467.5,180.7 L467.7,180.5 L467.5,179.9 L467.3,179.2 L467.1,178.4 L466.9,177.6 L466.7,176.9 L466.6,176.2 L466.5,175.5 L466.6,175.2 L466.8,175.1 L466.9,174.9 L467.1,174.8 L467.3,174.7 L467.5,174.5 L467.7,174.4 L467.8,174.3 L468,174.1 L468.2,174 L468.4,173.9 L468.6,173.7 L468.7,173.6 L468.9,173.5 L469.1,173.4 L469.3,173.3 L469.5,173.1 L469.7,173 L469.9,173.2 L470.3,173.7 L470.8,174.2 L471.2,174.8 L471.6,175.4 L472,176 L472.4,176.7 L472.7,176.9 L472.9,176.8 L473,176.7 L473.2,176.6 L473.3,176.6 L473.5,176.5 L473.7,176.4 L473.8,176.3 L474,176.2 L474.2,176.2 L474.3,176.1 L474.5,176 L474.7,175.9 L474.8,175.9 L475,175.8 L475.2,175.7 L475.3,175.6 L475.5,175.6 L475.7,175.5 L475.8,175.5 L476,175.4 L476.2,175.3 L476.3,175.3 L476.5,175.2 L476.7,175.2 L476.8,175.1 L477,175 L477.2,175 L477.3,174.9 L477.5,174.9 L477.7,174.8 L477.9,174.8 L478,174.4 L478.1,173.6 L478.2,172.7 L478.3,171.9 L478.4,171.1 L478.5,170.3 L478.6,169.6 L478.8,169.3 L479,169.2 L479.2,169.2 L479.4,169.2 L479.6,169.1 L479.8,169.1 L480,169.1 L480.2,169 L480.4,169 L480.6,169 L480.8,168.9 L481,168.9 L481.2,168.9 L481.5,168.9 L481.7,168.9 L481.9,168.8 L482.1,168.8 L482.3,168.8 L482.5,168.9 L482.6,169.6 L482.8,170.3 L483,171.1 L483.1,171.8 L483.3,172.7 L483.4,173.5 L483.5,174.1 L483.7,174.1 L483.9,174.1 L484,174.1 L484.2,174.1 L484.4,174.1 L484.6,174.1 L484.7,174.1 L484.9,174.1 L485.1,174.1 L485.2,174.2 L485.4,174.2 L485.6,174.2 L485.7,174.2 L485.9,174.2 L486.1,174.3 L486.3,174.3 L486.4,174.3 L486.6,174.3 L486.8,174.4 L486.9,174.4 L487.1,174.4 L487.3,174.5 L487.4,174.5 L487.6,174.5 L487.8,174.6 L487.9,174.6 L488.1,174.6 L488.3,174.7 L488.4,174.7 L488.6,174.8 L488.8,174.8 L489,174.8 L489.3,174 L489.7,173.3 L490.1,172.6 L490.5,171.9 L490.9,171.2 L491.2,170.6 L491.6,170.2 L491.8,170.2 L491.9,170.3 L492.1,170.4 L492.3,170.5 L492.5,170.5 L492.7,170.6 L492.9,170.7 L493.1,170.8 L493.3,170.9 L493.4,170.9 L493.6,171 L493.8,171.1 L494,171.2 L494.2,171.3 L494.4,171.4 L494.5,171.5 L494.7,171.6 L494.9,171.7 L494.8,172.3 L494.7,173.1 L494.6,173.8 L494.5,174.7 L494.3,175.5 L494.1,176.3 L494,177.1 L494.1,177.2 L494.3,177.3 L494.4,177.4 L494.6,177.5 L494.7,177.6 L494.8,177.7 L495,177.8 L495.1,177.9 L495.3,178 L495.4,178.1 L495.6,178.2 L495.7,178.3 L495.8,178.4 L496,178.6 L496.1,178.7 L496.3,178.8 L496.4,178.9 L496.5,179 L496.7,179.1 L496.8,179.2 L496.9,179.4 L497.1,179.5 L497.2,179.6 L497.3,179.7 L497.5,179.9 L497.6,180 L497.7,180.1 L497.9,180.2 L498,180.4 L498.1,180.5 L498.2,180.6 L498.4,180.7 L498.9,180.3 L499.5,179.8 L500.1,179.4 L500.7,178.9 L501.2,178.5 L501.8,178.1 L502.3,177.8 L502.5,177.9 L502.6,178.1 L502.8,178.3 L502.9,178.4 L503,178.6 L503.2,178.8 L503.3,178.9 L503.4,179.1 L503.6,179.3 L503.7,179.5 L503.8,179.6 L504,179.8 L504.1,180 L504.2,180.2 L504.3,180.4 L504.5,180.6 L504.6,180.7 L504.7,180.9 L504.6,181.4 L504.2,182 L503.8,182.7 L503.4,183.3 L503,184 L502.6,184.7 L502.1,185.4 L502,185.7 L502.1,185.9 L502.2,186 L502.3,186.2 L502.4,186.4 L502.5,186.5 L502.6,186.7 L502.7,186.9 L502.8,187 L502.9,187.2 L503,187.4 L503,187.6 L503.1,187.7 L503.2,187.9 L503.3,188.1 L503.4,188.3 L503.4,188.5 L503.5,188.6 L503.6,188.8 L503.7,189 L503.8,189.2 L503.8,189.4 L503.9,189.5 L504,189.7 L504,189.9 L504.1,190.1 L504.2,190.3 L504.2,190.5 L504.3,190.7 L504.4,190.9 L504.4,191 L504.5,191.2 L504.9,191.2 L505.6,191.1 L506.3,190.9 L507,190.8 L507.6,190.7 L508.3,190.7 L508.8,190.6 L509.1,190.8 L509.1,191 L509.2,191.2 L509.3,191.5 L509.3,191.7 L509.4,191.9 L509.4,192.2 L509.5,192.4 L509.5,192.6 L509.6,192.9 L509.6,193.1 L509.7,193.3 L509.7,193.6 L509.8,193.8 L509.8,194 L509.9,194.3 L509.9,194.5 L510,194.7 L509.8,195 L509.3,195.5 L508.8,195.9 L508.2,196.3 L507.6,196.7 L506.9,197.1 L506.3,197.5 L505.9,197.8 L506,198 L506,198.2 L506,198.4 L506,198.6 L506.1,198.8 L506.1,199 L506.1,199.2 L506.1,199.4 L506.1,199.6 L506.1,199.9 L506.1,200.1 L506.2,200.3 L506.2,200.5 L506.2,200.7 L506.2,200.9 L506.2,201.1 L506.2,201.3 L506.2,201.5 L506.2,201.7 L506.2,201.9 L506.2,202.2 L506.2,202.4 L506.2,202.6 L506.2,202.8 L506.2,203 L506.2,203.2 L506.2,203.4 L506.2,203.6 L506.1,203.8 L506.1,204 L506.1,204.3 L506.3,204.5 L507,204.7 L507.6,204.9 L508.2,205.2 L508.8,205.4 L509.4,205.7 L510,206 L510.3,206.2 L510.2,206.5 L510.2,206.7 L510.2,207 L510.2,207.2 L510.1,207.5 L510.1,207.7 L510,208 L510,208.2 L510,208.5 L509.9,208.7 L509.9,209 Z" fill="#fff" stroke="#000" stroke-width="3.0" stroke-linejoin="round"/><ellipse cx="483" cy="205.2" rx="23.8" ry="29.4" transform="rotate(10 481.5 204.2)" fill="none" stroke="#000" stroke-width="2.2"/><ellipse cx="486.7" cy="208" rx="23" ry="30" transform="rotate(10 486.7 208)" fill="#fff" stroke="#000" stroke-width="2"/>
<g transform="translate(486.2,207) rotate(10)"><ellipse cx="0" cy="0" rx="11.5" ry="13.2" fill="#fff" stroke="#000" stroke-width="2.8"/><circle cx="0.8" cy="1" r="3.8" fill="#000"/><circle cx="1.3" cy="0.6" r="1.1" fill="#fff"/></g>
<path d="M290,344.2 L289.8,344.5 L289.7,344.7 L289.5,345 L289.3,345.2 L289.1,345.4 L288.9,345.6 L288.7,345.8 L288.5,346 L288.2,346.2 L288,346.4 L287.7,346.5 L287.5,346.7 L287.2,346.8 L286.9,347 L286.7,347.1 L286.4,347.2 L286.1,347.3 L285.8,347.4 L285.5,347.6 L285.3,347.7 L285,347.8 L284.7,347.9 L284.4,347.9 L284.2,348 L283.9,348.1 L283.7,348.3 L283.5,348.5 L283.5,348.8 L283.4,349.1 L283.4,349.4 L283.4,349.7 L283.4,350.1 L283.3,350.4 L283.3,350.8 L283.3,351.1 L283.2,351.5 L283.2,351.8 L283.1,352.2 L283.1,352.5 L283,352.8 L282.9,353.2 L282.9,353.5 L282.8,353.8 L282.7,354.1 L282.6,354.4 L282.4,354.7 L282.3,355 L282.2,355.3 L282,355.6 L281.9,355.8 L281.7,356 L281.5,356.3 L281.4,356.5 L281.2,356.7 L281,356.9 L280.8,357 L280.6,357.2 L280.3,357.3 L280.1,357.4 L279.9,357.5 L279.6,357.6 L279.4,357.7 L279.1,357.8 L278.9,357.8 L278.6,357.9 L278.4,357.9 L278.1,357.9 L277.8,357.9 L277.6,357.9 L277.3,357.9 L277.1,357.9 L276.8,357.9 L276.5,357.8 L276.3,357.8 L276,357.8 L275.8,357.7 L275.5,357.7 L275.3,357.7 L275.1,357.7 L274.9,357.9 L274.8,358.2 L274.6,358.5 L274.5,358.8 L274.4,359.2 L274.3,359.5 L274.1,359.9 L274,360.2 L273.9,360.6 L273.7,360.9 L273.6,361.3 L273.4,361.6 L273.3,362 L273.1,362.3 L273,362.6 L272.8,362.9 L272.6,363.2 L272.5,363.5 L272.3,363.8 L272.1,364 L271.9,364.3 L271.7,364.5 L271.5,364.7 L271.3,364.9 L271.1,365.1 L270.9,365.2 L270.7,365.3 L270.5,365.5 L270.3,365.6 L270.1,365.6 L269.8,365.7 L269.6,365.7 L269.4,365.7 L269.2,365.7 L268.9,365.7 L268.7,365.7 L268.5,365.6 L268.3,365.6 L268.1,365.5 L267.8,365.4 L267.6,365.3 L267.4,365.2 L267.2,365 L267,364.9 L266.8,364.8 L266.6,364.6 L266.4,364.4 L266.2,364.3 L266,364.1 L265.8,364 L265.6,363.8 L265.4,363.7 L265.2,363.6 L265.1,363.7 L264.9,364 L264.7,364.3 L264.5,364.6 L264.3,364.9 L264,365.2 L263.8,365.5 L263.6,365.8 L263.4,366.1 L263.2,366.4 L263,366.7 L262.7,367 L262.5,367.3 L262.3,367.6 L262.1,367.8 L261.8,368.1 L261.6,368.3 L261.4,368.5 L261.2,368.7 L260.9,368.9 L260.7,369.1 L260.5,369.2 L260.3,369.3 L260,369.4 L259.8,369.5 L259.6,369.6 L259.4,369.6 L259.2,369.6 L259,369.6 L258.8,369.6 L258.6,369.6 L258.4,369.5 L258.2,369.4 L258,369.3 L257.9,369.2 L257.7,369 L257.5,368.9 L257.4,368.7 L257.2,368.5 L257.1,368.3 L256.9,368.1 L256.8,367.9 L256.7,367.6 L256.6,367.4 L256.4,367.1 L256.3,366.9 L256.2,366.6 L256.1,366.3 L256,366.1 L255.9,365.8 L255.8,365.6 L255.7,365.4 L255.5,365.2 L255.3,365.2 L255.1,365.4 L254.9,365.6 L254.6,365.8 L254.3,366 L254.1,366.3 L253.8,366.5 L253.6,366.7 L253.3,367 L253,367.2 L252.7,367.4 L252.5,367.6 L252.2,367.8 L251.9,368 L251.7,368.1 L251.4,368.3 L251.2,368.4 L250.9,368.5 L250.7,368.6 L250.4,368.7 L250.2,368.8 L250,368.8 L249.8,368.9 L249.6,368.9 L249.4,368.8 L249.2,368.8 L249,368.7 L248.8,368.7 L248.7,368.6 L248.5,368.4 L248.4,368.3 L248.2,368.1 L248.1,368 L248,367.8 L247.9,367.5 L247.8,367.3 L247.7,367.1 L247.7,366.8 L247.6,366.5 L247.5,366.2 L247.5,365.9 L247.5,365.6 L247.4,365.3 L247.4,365 L247.4,364.6 L247.4,364.3 L247.4,364 L247.3,363.7 L247.3,363.3 L247.3,363 L247.3,362.7 L247.3,362.4 L247.2,362.2 L247.1,362.1 L246.8,362.2 L246.6,362.3 L246.3,362.4 L246,362.5 L245.7,362.7 L245.4,362.8 L245.2,362.9 L244.9,363 L244.6,363.1 L244.3,363.2 L244,363.3 L243.8,363.4 L243.5,363.4 L243.2,363.5 L243,363.5 L242.7,363.5 L242.5,363.5 L242.3,363.5 L242,363.5 L241.8,363.5 L241.6,363.4 L241.5,363.3 L241.3,363.2 L241.1,363.1 L241,363 L240.9,362.8 L240.8,362.7 L240.7,362.5 L240.6,362.3 L240.5,362 L240.5,361.8 L240.4,361.6 L240.4,361.3 L240.4,361 L240.4,360.7 L240.4,360.4 L240.4,360.1 L240.4,359.8 L240.5,359.4 L240.6,359.1 L240.6,358.8 L240.7,358.4 L240.8,358.1 L240.9,357.7 L240.9,357.3 L241,357 L241.1,356.6 L241.2,356.3 L241.3,356 L241.4,355.6 L241.5,355.3 L241.5,355 L241.3,354.9 L241.1,354.9 L240.9,354.9 L240.6,354.9 L240.4,354.8 L240.1,354.8 L239.9,354.8 L239.6,354.8 L239.3,354.8 L239.1,354.8 L238.8,354.7 L238.6,354.7 L238.3,354.6 L238.1,354.6 L237.9,354.5 L237.6,354.4 L237.4,354.3 L237.2,354.2 L237.1,354.1 L236.9,353.9 L236.7,353.8 L236.6,353.6 L236.5,353.5 L236.4,353.3 L236.3,353.1 L236.2,352.9 L236.2,352.7 L236.1,352.4 L236.1,352.2 L236.1,351.9 L236.1,351.7 L236.1,351.4 L236.2,351.1 L236.3,350.8 L236.3,350.5 L236.4,350.2 L236.5,349.9 L236.6,349.6 L236.8,349.2 L236.9,348.9 L237.1,348.6 L237.2,348.2 L237.4,347.9 L237.6,347.6 L237.7,347.2 L237.9,346.9 L238.1,346.6 L238.3,346.2 L238.5,345.9 L238.6,345.6 L238.8,345.3 L239,345 L239.1,344.7 L239,344.5 L238.8,344.4 L238.6,344.2 L238.4,344.1 L238.2,344 L238,343.8 L237.8,343.7 L237.6,343.5 L237.4,343.4 L237.2,343.2 L237,343.1 L236.8,342.9 L236.6,342.7 L236.4,342.6 L236.3,342.4 L236.1,342.2 L236,342 L235.9,341.8 L235.8,341.6 L235.7,341.4 L235.6,341.1 L235.5,340.9 L235.5,340.7 L235.5,340.4 L235.5,340.2 L235.5,339.9 L235.5,339.6 L235.5,339.4 L235.6,339.1 L235.7,338.8 L235.8,338.6 L235.9,338.3 L236,338 L236.1,337.7 L236.3,337.4 L236.5,337.1 L236.6,336.9 L236.8,336.6 L237,336.3 L237.3,336 L237.5,335.7 L237.7,335.4 L238,335.2 L238.2,334.9 L238.4,334.6 L238.7,334.4 L238.9,334.1 L239.2,333.8 L239.4,333.6 L239.7,333.3 L239.9,333.1 L240.1,332.8 L240.3,332.6 L240.2,332.3 L240.1,332.1 L240,331.9 L239.9,331.6 L239.8,331.4 L239.7,331.2 L239.5,330.9 L239.4,330.7 L239.3,330.4 L239.2,330.1 L239.1,329.9 L239,329.6 L238.9,329.3 L238.8,329.1 L238.7,328.8 L238.7,328.5 L238.6,328.2 L238.6,328 L238.6,327.7 L238.6,327.4 L238.6,327.1 L238.6,326.9 L238.6,326.6 L238.7,326.3 L238.8,326 L238.9,325.8 L239,325.5 L239.1,325.3 L239.2,325 L239.4,324.7 L239.5,324.5 L239.7,324.2 L239.9,324 L240.1,323.8 L240.3,323.6 L240.5,323.3 L240.7,323.1 L241,322.9 L241.2,322.7 L241.5,322.5 L241.8,322.3 L242,322.1 L242.3,321.9 L242.6,321.8 L242.9,321.6 L243.2,321.4 L243.4,321.3 L243.7,321.1 L244,321 L244.3,320.8 L244.5,320.7 L244.8,320.5 L245,320.3 L245,320.1 L245,319.8 L245,319.5 L245,319.1 L244.9,318.8 L244.9,318.5 L244.9,318.2 L244.9,317.9 L244.8,317.5 L244.8,317.2 L244.8,316.9 L244.8,316.5 L244.8,316.2 L244.9,315.9 L244.9,315.6 L244.9,315.3 L245,314.9 L245,314.6 L245.1,314.3 L245.2,314 L245.3,313.7 L245.4,313.5 L245.5,313.2 L245.6,312.9 L245.8,312.7 L245.9,312.4 L246.1,312.2 L246.3,312 L246.4,311.8 L246.6,311.6 L246.8,311.4 L247.1,311.2 L247.3,311 L247.5,310.9 L247.8,310.8 L248,310.6 L248.3,310.5 L248.5,310.4 L248.8,310.3 L249.1,310.2 L249.3,310.2 L249.6,310.1 L249.9,310 L250.2,310 L250.4,309.9 L250.7,309.9 L251,309.9 L251.3,309.8 L251.5,309.8 L251.8,309.8 L252.1,309.7 L252.3,309.7 L252.5,309.6 L252.6,309.3 L252.7,309 L252.8,308.7 L252.9,308.3 L252.9,308 L253,307.6 L253.1,307.3 L253.2,306.9 L253.3,306.6 L253.4,306.2 L253.5,305.8 L253.6,305.5 L253.7,305.2 L253.8,304.8 L253.9,304.5 L254,304.2 L254.2,303.9 L254.3,303.6 L254.5,303.3 L254.6,303 L254.8,302.7 L254.9,302.5 L255.1,302.3 L255.3,302 L255.5,301.8 L255.7,301.7 L255.9,301.5 L256.1,301.3 L256.3,301.2 L256.5,301.1 L256.8,301 L257,300.9 L257.2,300.9 L257.5,300.8 L257.7,300.8 L257.9,300.8 L258.2,300.8 L258.4,300.8 L258.7,300.8 L258.9,300.9 L259.1,300.9 L259.4,301 L259.6,301 L259.9,301.1 L260.1,301.2 L260.3,301.3 L260.6,301.4 L260.8,301.5 L261,301.6 L261.2,301.7 L261.5,301.7 L261.7,301.8 L261.9,301.8 L262,301.5 L262.2,301.2 L262.4,300.9 L262.5,300.6 L262.7,300.3 L262.9,299.9 L263,299.6 L263.2,299.3 L263.4,298.9 L263.6,298.6 L263.8,298.3 L264,298 L264.2,297.7 L264.4,297.4 L264.5,297.1 L264.8,296.8 L265,296.5 L265.2,296.3 L265.4,296 L265.6,295.8 L265.8,295.6 L266,295.5 L266.2,295.3 L266.4,295.2 L266.6,295 L266.9,294.9 L267.1,294.9 L267.3,294.8 L267.5,294.8 L267.7,294.7 L267.9,294.8 L268.1,294.8 L268.3,294.8 L268.5,294.9 L268.7,295 L268.9,295.1 L269.1,295.2 L269.3,295.3 L269.5,295.5 L269.7,295.6 L269.9,295.8 L270,296 L270.2,296.2 L270.4,296.4 L270.5,296.6 L270.7,296.8 L270.9,297 L271,297.2 L271.2,297.4 L271.3,297.6 L271.5,297.8 L271.6,298 L271.8,298 L272,297.8 L272.2,297.6 L272.5,297.4 L272.7,297.1 L272.9,296.8 L273.2,296.5 L273.4,296.3 L273.7,296 L273.9,295.7 L274.2,295.5 L274.4,295.2 L274.7,295 L274.9,294.7 L275.2,294.5 L275.4,294.3 L275.7,294.1 L275.9,293.9 L276.1,293.8 L276.4,293.6 L276.6,293.5 L276.8,293.4 L277.1,293.3 L277.3,293.2 L277.5,293.2 L277.7,293.2 L277.9,293.2 L278.1,293.2 L278.3,293.2 L278.5,293.3 L278.7,293.4 L278.8,293.5 L279,293.6 L279.1,293.7 L279.3,293.9 L279.4,294.1 L279.5,294.3 L279.7,294.5 L279.8,294.7 L279.9,295 L280,295.2 L280.1,295.5 L280.2,295.8 L280.2,296.1 L280.3,296.4 L280.4,296.7 L280.4,297 L280.5,297.3 L280.6,297.6 L280.6,297.9 L280.7,298.1 L280.7,298.4 L280.8,298.7 L280.9,298.8 L281.2,298.7 L281.4,298.5 L281.7,298.4 L282,298.2 L282.2,298 L282.5,297.9 L282.8,297.7 L283.1,297.5 L283.4,297.4 L283.6,297.2 L283.9,297 L284.2,296.9 L284.5,296.8 L284.7,296.7 L285,296.6 L285.3,296.5 L285.5,296.4 L285.7,296.3 L286,296.3 L286.2,296.3 L286.4,296.3 L286.6,296.3 L286.8,296.3 L287,296.4 L287.2,296.5 L287.4,296.6 L287.5,296.7 L287.6,296.8 L287.8,297 L287.9,297.2 L288,297.3 L288.1,297.6 L288.2,297.8 L288.2,298 L288.3,298.3 L288.3,298.6 L288.3,298.9 L288.4,299.2 L288.4,299.5 L288.4,299.8 L288.4,300.1 L288.3,300.4 L288.3,300.8 L288.3,301.1 L288.2,301.5 L288.2,301.8 L288.2,302.2 L288.1,302.5 L288.1,302.9 L288,303.2 L288,303.5 L288,303.8 L288.1,304 L288.3,304 L288.5,304 L288.8,303.9 L289.1,303.9 L289.3,303.8 L289.6,303.8 L289.9,303.7 L290.2,303.7 L290.5,303.6 L290.7,303.6 L291,303.6 L291.3,303.5 L291.5,303.5 L291.8,303.5 L292,303.6 L292.3,303.6 L292.5,303.6 L292.7,303.7 L292.9,303.8 L293.1,303.8 L293.3,304 L293.4,304.1 L293.6,304.2 L293.7,304.4 L293.8,304.5 L293.9,304.7 L294,304.9 L294.1,305.1 L294.1,305.3 L294.2,305.6 L294.2,305.8 L294.2,306.1 L294.2,306.4 L294.1,306.7 L294.1,307 L294.1,307.3 L294,307.6 L293.9,307.9 L293.8,308.3 L293.7,308.6 L293.6,308.9 L293.5,309.3 L293.4,309.6 L293.2,310 L293.1,310.4 L293,310.7 L292.8,311 L292.7,311.4 L292.5,311.7 L292.4,312.1 L292.3,312.4 L292.2,312.7 L292.2,312.9 L292.4,313 L292.6,313.1 L292.8,313.2 L293.1,313.2 L293.3,313.3 L293.5,313.4 L293.8,313.5 L294,313.6 L294.2,313.7 L294.5,313.7 L294.7,313.8 L294.9,314 L295.1,314.1 L295.3,314.2 L295.5,314.3 L295.7,314.5 L295.9,314.6 L296,314.8 L296.2,315 L296.3,315.2 L296.4,315.4 L296.5,315.6 L296.6,315.8 L296.6,316 L296.7,316.2 L296.7,316.5 L296.7,316.7 L296.7,317 L296.7,317.2 L296.6,317.5 L296.5,317.8 L296.5,318.1 L296.4,318.4 L296.3,318.7 L296.1,319 L296,319.3 L295.8,319.6 L295.7,319.9 L295.5,320.2 L295.3,320.5 L295.1,320.8 L294.9,321.1 L294.7,321.5 L294.5,321.8 L294.3,322.1 L294.1,322.4 L293.9,322.7 L293.6,323 L293.4,323.3 L293.2,323.6 L293,323.8 L292.8,324.1 L292.8,324.3 L292.9,324.5 L293.1,324.7 L293.2,324.9 L293.4,325.1 L293.6,325.3 L293.7,325.5 L293.9,325.7 L294.1,325.9 L294.2,326.1 L294.4,326.3 L294.5,326.5 L294.7,326.8 L294.8,327 L294.9,327.2 L295,327.5 L295.1,327.7 L295.2,327.9 L295.3,328.2 L295.3,328.4 L295.4,328.7 L295.4,328.9 L295.4,329.2 L295.4,329.5 L295.4,329.7 L295.4,330 L295.3,330.3 L295.2,330.5 L295.1,330.8 L295,331.1 L294.9,331.3 L294.8,331.6 L294.6,331.9 L294.5,332.1 L294.3,332.4 L294.1,332.7 L293.9,332.9 L293.7,333.2 L293.4,333.4 L293.2,333.7 L293,333.9 L292.7,334.1 L292.4,334.4 L292.2,334.6 L291.9,334.8 L291.6,335.1 L291.4,335.3 L291.1,335.5 L290.8,335.7 L290.6,335.9 L290.3,336.1 L290.1,336.3 L289.9,336.5 L289.8,336.8 L289.8,337 L289.9,337.3 L289.9,337.6 L290,337.9 L290.1,338.1 L290.2,338.4 L290.2,338.7 L290.3,339 L290.4,339.3 L290.4,339.6 L290.5,339.9 L290.5,340.2 L290.6,340.5 L290.6,340.8 L290.6,341.1 L290.6,341.4 L290.6,341.7 L290.6,342 L290.6,342.3 L290.5,342.6 L290.5,342.9 L290.4,343.2 L290.3,343.4 L290.2,343.7 L290.1,344 Z" fill="#fff" stroke="#000" stroke-width="2.3" stroke-linejoin="round"/>
<ellipse cx="267.8" cy="332.6" rx="4.3" ry="5.8" transform="rotate(21 267.8 332.6)" fill="#fff" stroke="#000" stroke-width="2.6"/>
<ellipse cx="275.2" cy="317.6" rx="2" ry="2.8" transform="rotate(21 275.2 317.6)" fill="#000"/><ellipse cx="259.6" cy="345.4" rx="2.2" ry="2.8" transform="rotate(21 259.6 345.4)" fill="#000"/>
<path d="M400.5,60.5 C400,59.6 399.6,55 400,53.5 C400.4,52 404.4,43.9 405.5,42.5 C406.6,41.1 411.7,37.5 413,36.5 C414.3,35.5 419.8,31.4 421.2,31 C422.6,30.6 428.7,32.2 430.1,31.9 C431.5,31.6 437.3,29.4 438.3,27.8 C439.3,26.2 441.2,15 442.4,13.1 C443.6,11.2 450.4,5.7 452.2,4.9 C454,4.2 462.2,3.8 463.7,4.1 C465.2,4.4 468.3,6.9 470.2,8.2 C472.1,9.5 483.9,17.6 486.5,19.6 C489.1,21.6 499.8,31.3 501.3,32.7 C502.8,34.1 504.5,35.4 504.5,36 C504.5,36.6 502.2,39.5 501.3,40 C500.4,40.5 494.3,41.9 493.1,41.7 C491.9,41.5 487.6,38.5 486.5,37.6 C485.4,36.7 481.2,31.6 480,31.1 C478.8,30.6 475.9,30.5 471.8,31.9 C467.7,33.3 434.9,46 431,47.4 C427.1,48.8 425.2,48.2 424.4,49 C423.6,49.8 422,55.2 421.2,56.4 C420.4,57.6 415.8,62.2 414.6,62.9 C413.4,63.6 407.6,64.8 406.4,64.6 C405.2,64.4 401,61.4 400.5,60.5 Z" fill="#fff" stroke="#000" stroke-width="3" stroke-linejoin="round"/>
<path d="M437,29 Q441,22 441.5,15 Q444,9 449,6" fill="none" stroke="#000" stroke-width="1.6"/>
<ellipse cx="456.4" cy="22.9" rx="6.5" ry="8.5" transform="rotate(25 456.4 22.9)" fill="#fff" stroke="#000" stroke-width="2.2"/>
<circle cx="411" cy="53.2" r="5.8" fill="#fff" stroke="#000" stroke-width="2.4"/>
<circle cx="417" cy="55.6" r="3.2" fill="#fff" stroke="#000" stroke-width="2"/>
<path d="M422.8,33 L422.8,48 M428.6,33 L428.6,47.5" stroke="#000" stroke-width="2" fill="none"/>
<g transform="translate(583,96) rotate(26)"><rect x="-1" y="-4.3" width="22" height="8.6" rx="3" fill="#fff" stroke="#000" stroke-width="2.4"/><rect x="-1.5" y="-4" width="4" height="8" rx="2" fill="#555"/><path d="M4.5,-4 l1.5,8 M8.5,-4 l1.5,8 M12.5,-4 l1.5,8" stroke="#000" stroke-width="2"/></g>
<ellipse cx="605" cy="108.5" rx="6.6" ry="7.6" transform="rotate(26 605 108.5)" fill="#fff" stroke="#000" stroke-width="2.4"/>
<path d="M609.4,102.5 L623,101.5 L630.6,110 L629.5,122.5 L617.8,127 L610.4,123.5 L608.3,113 Z" fill="#fff" stroke="#000" stroke-width="2.6" stroke-linejoin="round"/>
<ellipse cx="623.3" cy="115.8" rx="6.2" ry="9.6" transform="rotate(18 623.3 115.8)" fill="#fff" stroke="#000" stroke-width="2"/>
<path d="M612,104 L611,122 M615.5,103 L614,124.5" stroke="#000" stroke-width="1.8" fill="none"/>
<path d="M772,31 L742,121 Q749,126.5 759,125 L789.5,34 Z" fill="#fff" stroke="#000" stroke-width="2.2"/>
<ellipse cx="780.6" cy="31.5" rx="8.6" ry="3.5" transform="rotate(14 780.6 31.5)" fill="#fff" stroke="#000" stroke-width="3.4"/>
<circle cx="760.2" cy="75.5" r="3" fill="#000"/><path d="M774.5,71.5 q-4.5,-1 -4.5,3.5 M771.5,82 q-4.5,-1 -4,4" stroke="#000" stroke-width="3.4" fill="none"/>
<g transform="translate(787,15) rotate(18)"><rect x="-5.5" y="0" width="11" height="11.5" rx="3.5" fill="#000"/><ellipse cx="0" cy="-1.5" rx="8.8" ry="7.8" fill="#000"/><ellipse cx="0.8" cy="-4.6" rx="4.2" ry="1.9" fill="#fff"/><ellipse cx="0" cy="1.2" rx="5.8" ry="2.2" fill="#fff"/><ellipse cx="0" cy="7" rx="3.8" ry="2.1" fill="#fff"/></g>
<g transform="translate(746,131) rotate(18)"><path d="M-4,1 Q0,-1 4,1 L4.5,10 L7,13 L7,92 Q0,95 -7,92 L-7,13 L-4.5,10 Z" fill="#000" stroke="#000" stroke-width="1"/><ellipse cx="0" cy="3.5" rx="2.5" ry="1.2" fill="#fff"/><ellipse cx="0" cy="8" rx="2.8" ry="1" fill="#fff"/><ellipse cx="0.3" cy="15" rx="4" ry="0.75" transform="rotate(-10 0.3 15)" fill="#fff"/><ellipse cx="0.3" cy="17.9" rx="4" ry="0.75" transform="rotate(-10 0.3 17.9)" fill="#fff"/><ellipse cx="0.3" cy="20.8" rx="4" ry="0.75" transform="rotate(-10 0.3 20.8)" fill="#fff"/><ellipse cx="0.3" cy="23.7" rx="4" ry="0.75" transform="rotate(-10 0.3 23.7)" fill="#fff"/><ellipse cx="0.3" cy="26.6" rx="4" ry="0.75" transform="rotate(-10 0.3 26.6)" fill="#fff"/><ellipse cx="0.3" cy="29.5" rx="4" ry="0.75" transform="rotate(-10 0.3 29.5)" fill="#fff"/><ellipse cx="0.3" cy="32.4" rx="4" ry="0.75" transform="rotate(-10 0.3 32.4)" fill="#fff"/><ellipse cx="0.3" cy="35.3" rx="4" ry="0.75" transform="rotate(-10 0.3 35.3)" fill="#fff"/><ellipse cx="0.3" cy="38.2" rx="4" ry="0.75" transform="rotate(-10 0.3 38.2)" fill="#fff"/><ellipse cx="0.3" cy="41.1" rx="4" ry="0.75" transform="rotate(-10 0.3 41.1)" fill="#fff"/><ellipse cx="0.3" cy="44" rx="4" ry="0.75" transform="rotate(-10 0.3 44)" fill="#fff"/><ellipse cx="0.3" cy="46.9" rx="4" ry="0.75" transform="rotate(-10 0.3 46.9)" fill="#fff"/><ellipse cx="0.3" cy="49.8" rx="4" ry="0.75" transform="rotate(-10 0.3 49.8)" fill="#fff"/><ellipse cx="0.3" cy="52.7" rx="4" ry="0.75" transform="rotate(-10 0.3 52.7)" fill="#fff"/><ellipse cx="0.3" cy="55.6" rx="4" ry="0.75" transform="rotate(-10 0.3 55.6)" fill="#fff"/><ellipse cx="0.3" cy="58.5" rx="4" ry="0.75" transform="rotate(-10 0.3 58.5)" fill="#fff"/><ellipse cx="0.3" cy="61.4" rx="4" ry="0.75" transform="rotate(-10 0.3 61.4)" fill="#fff"/><ellipse cx="0.3" cy="64.3" rx="4" ry="0.75" transform="rotate(-10 0.3 64.3)" fill="#fff"/><ellipse cx="0.3" cy="67.2" rx="4" ry="0.75" transform="rotate(-10 0.3 67.2)" fill="#fff"/><ellipse cx="0.3" cy="70.1" rx="4" ry="0.75" transform="rotate(-10 0.3 70.1)" fill="#fff"/><ellipse cx="0.3" cy="73" rx="4" ry="0.75" transform="rotate(-10 0.3 73)" fill="#fff"/><ellipse cx="0.3" cy="75.9" rx="4" ry="0.75" transform="rotate(-10 0.3 75.9)" fill="#fff"/><ellipse cx="0.3" cy="78.8" rx="4" ry="0.75" transform="rotate(-10 0.3 78.8)" fill="#fff"/><ellipse cx="0.3" cy="81.7" rx="4" ry="0.75" transform="rotate(-10 0.3 81.7)" fill="#fff"/><ellipse cx="0.3" cy="84.6" rx="4" ry="0.75" transform="rotate(-10 0.3 84.6)" fill="#fff"/><ellipse cx="0.3" cy="87.5" rx="4" ry="0.75" transform="rotate(-10 0.3 87.5)" fill="#fff"/><ellipse cx="0.3" cy="90.4" rx="4" ry="0.75" transform="rotate(-10 0.3 90.4)" fill="#fff"/></g>
<g transform="translate(713,229.7) rotate(12)"><ellipse cx="0" cy="0" rx="14.8" ry="7.8" fill="#fff" stroke="#000" stroke-width="3"/><ellipse cx="0" cy="0" rx="8.5" ry="3.8" fill="#000"/><ellipse cx="0.5" cy="0.3" rx="5" ry="1.5" fill="#fff"/></g>
<path d="M686.5,262 L686.5,270 Q700,280 714,272 L714,262 Z" fill="#fff" stroke="#000" stroke-width="3.2"/>
<path d="M692,275 L692,270 M707,275 L707,270" stroke="#000" stroke-width="2"/>
<ellipse cx="700.3" cy="259" rx="16.5" ry="8.2" transform="rotate(8 700.3 259)" fill="#fff" stroke="#000" stroke-width="3.3"/>
<rect x="697" y="240" width="19" height="19" rx="4.5" fill="#000"/>
<path d="M701,246 q5,-1.5 11,0 M701,250 q5,-1.5 11,0 M701,254 q5,-1.5 11,0" stroke="#fff" stroke-width="1.2" fill="none"/>
<ellipse cx="798.7" cy="123.8" rx="6.3" ry="7.6" transform="rotate(20 798.7 123.8)" fill="#fff" stroke="#000" stroke-width="2.8"/><ellipse cx="799.2" cy="124" rx="2.8" ry="4.4" transform="rotate(20 799.2 124)" fill="#000"/>
<g transform="translate(809,131.5) rotate(36)"><rect x="-1.5" y="-4.4" width="27" height="8.8" rx="4" fill="#000"/><path d="M3,-1 h2.5 M8,-1 h2 M12,-1 h2" stroke="#fff" stroke-width="1.2"/></g>
<ellipse cx="835.8" cy="146.8" rx="8.6" ry="9" transform="rotate(30 835.8 146.8)" fill="#000"/><ellipse cx="838.5" cy="149.2" rx="4.6" ry="5.6" transform="rotate(30 838.5 149.2)" fill="#fff"/><path d="M831,142 l-2,6" stroke="#fff" stroke-width="1.3"/>
<ellipse cx="396.3" cy="252.6" rx="7" ry="8.8" transform="rotate(22 396.3 252.6)" fill="#fff" stroke="#000" stroke-width="2.8"/><ellipse cx="395.8" cy="252" rx="3.2" ry="3.8" transform="rotate(22 395.8 252)" fill="#fff" stroke="#000" stroke-width="1.6"/>
<g transform="translate(413,259.5) rotate(32)" stroke="#000" fill="#fff"><rect x="-2" y="-4.2" width="31" height="8.4" rx="3.5" stroke-width="2.2"/><path d="M21,-4 l1,8 M24,-4 l1,8" stroke-width="1.6"/></g>
<ellipse cx="443" cy="278.5" rx="4.5" ry="8.6" transform="rotate(25 443 278.5)" fill="#fff" stroke="#000" stroke-width="2.4"/>
<ellipse cx="449.5" cy="279" rx="6.6" ry="8.3" transform="rotate(25 449.5 279)" fill="#fff" stroke="#000" stroke-width="2.6"/>
<ellipse cx="451" cy="280.5" rx="3.4" ry="4.8" transform="rotate(25 451 280.5)" fill="none" stroke="#000" stroke-width="1.2"/>
<g transform="translate(332,346.8) rotate(28)"><rect x="-2.5" y="-4.2" width="22.5" height="8.4" rx="4" fill="#000"/><circle cx="2" cy="0" r="1.3" fill="#fff"/><circle cx="7.5" cy="0.3" r="1.3" fill="#fff"/><circle cx="13" cy="0.3" r="1.3" fill="#fff"/><ellipse cx="22.5" cy="0" rx="5.6" ry="6.6" fill="#fff" stroke="#000" stroke-width="2.6"/><ellipse cx="24" cy="0.5" rx="2.8" ry="4.2" fill="none" stroke="#000" stroke-width="1.2"/></g>
<g transform="translate(327.3,373.3) rotate(28)"><rect x="-2.5" y="-4.2" width="22.5" height="8.4" rx="4" fill="#000"/><circle cx="2" cy="0" r="1.3" fill="#fff"/><circle cx="7.5" cy="0.3" r="1.3" fill="#fff"/><circle cx="13" cy="0.3" r="1.3" fill="#fff"/><ellipse cx="22.5" cy="0" rx="5.6" ry="6.6" fill="#fff" stroke="#000" stroke-width="2.6"/><ellipse cx="24" cy="0.5" rx="2.8" ry="4.2" fill="none" stroke="#000" stroke-width="1.2"/></g>
<g transform="translate(303.5,361.5) rotate(28)"><path d="M0,-7.5 L19,-7.5 A4,7.5 0 0 1 19,7.5 L0,7.5 A7,7.5 0 0 1 0,-7.5 Z" fill="#fff" stroke="#000" stroke-width="2.4"/><ellipse cx="19" cy="0" rx="3.5" ry="7" fill="#fff" stroke="#000" stroke-width="2"/><ellipse cx="19.3" cy="0.5" rx="1.6" ry="3.6" fill="none" stroke="#000" stroke-width="1.5"/></g>
<path d="M166.6,173.6 L166.6,200 M313.7,82.8 L313.7,103 M348.3,194.3 L368,194.3 M505,36.8 L527,36.8 M411.4,86.6 L431.8,86.6 M609,79.4 L609,99.4 M794.5,15.4 L816.3,15.4 M737.9,83.6 L754.6,83.6 M698.3,182.6 L721.4,183.9 M796,131.1 L795.6,158.7 M828,151.7 L828,170.3 M729,234 L744.5,234 M717.5,262 L738,262 M509.4,194.7 L536.7,194.7 M394.8,261.5 L395.3,274 M443.5,287 L443.5,303.4 M297,310.5 L303.5,310.5 M353.4,328.4 L353.4,351 M347.4,392.8 L347.4,406.3" stroke="#000" stroke-width="1.8" fill="none"/>
<path d="M304.6,372.5 Q300.8,378 300.8,384 L300.8,395" stroke="#000" stroke-width="1.8" fill="none"/>
<text x="167.3" y="170.4" text-anchor="middle" class="lb" transform="translate(167.3,0) scale(0.92,1) translate(-167.3,0)">2</text>
<path d="M311.4,68 L311.4,79.4 M308.2,71.4 Q310.1,70.2 311.8,68.2" stroke="#000" stroke-width="2.1" fill="none" stroke-linecap="butt"/>
<text x="318.9" y="79.2" text-anchor="middle" class="lb" transform="translate(318.9,0) scale(0.92,1) translate(-318.9,0)">2</text>
<text x="376" y="199.6" text-anchor="middle" class="lb" transform="translate(376,0) scale(0.92,1) translate(-376,0)">9</text>
<text x="535.1" y="43" text-anchor="middle" class="lb" transform="translate(535.1,0) scale(0.92,1) translate(-535.1,0)">3</text>
<text x="404.9" y="91.1" text-anchor="middle" class="lb" transform="translate(404.9,0) scale(0.92,1) translate(-404.9,0)">4</text>
<text x="609.7" y="75.7" text-anchor="middle" class="lb" transform="translate(609.7,0) scale(0.92,1) translate(-609.7,0)">5</text>
<text x="824.3" y="21.3" text-anchor="middle" class="lb" transform="translate(824.3,0) scale(0.92,1) translate(-824.3,0)">8</text>
<text x="729.2" y="88.6" text-anchor="middle" class="lb" transform="translate(729.2,0) scale(0.92,1) translate(-729.2,0)">7</text>
<text x="690.7" y="188.4" text-anchor="middle" class="lb" transform="translate(690.7,0) scale(0.92,1) translate(-690.7,0)">6</text>
<path d="M791.1,162.3 L791.1,173.7 M788.1,165.7 Q789.9,164.5 791.5,162.5" stroke="#000" stroke-width="2.1" fill="none" stroke-linecap="butt"/>
<text x="798.8" y="173.5" text-anchor="middle" class="lb" transform="translate(798.8,0) scale(0.92,1) translate(-798.8,0)">6</text>
<path d="M823.8,173.2 L823.8,184.6 M820.7,176.6 Q822.5,175.4 824.1,173.4" stroke="#000" stroke-width="2.1" fill="none" stroke-linecap="butt"/>
<text x="831.4" y="184.4" text-anchor="middle" class="lb" transform="translate(831.4,0) scale(0.92,1) translate(-831.4,0)">9</text>
<path d="M749.9,229 L749.9,240.4 M746.8,232.4 Q748.6,231.2 750.2,229.2" stroke="#000" stroke-width="2.1" fill="none" stroke-linecap="butt"/>
<text x="757.5" y="240.2" text-anchor="middle" class="lb" transform="translate(757.5,0) scale(0.92,1) translate(-757.5,0)">5</text>
<path d="M745.8,257.4 L745.8,268.8 M742.7,260.8 Q744.5,259.6 746.1,257.6" stroke="#000" stroke-width="2.1" fill="none" stroke-linecap="butt"/>
<text x="753.4" y="268.6" text-anchor="middle" class="lb" transform="translate(753.4,0) scale(0.92,1) translate(-753.4,0)">3</text>
<path d="M543.5,188.2 L543.5,199.6 M540.4,191.6 Q542.2,190.4 543.9,188.4" stroke="#000" stroke-width="2.1" fill="none" stroke-linecap="butt"/>
<text x="551.1" y="199.4" text-anchor="middle" class="lb" transform="translate(551.1,0) scale(0.92,1) translate(-551.1,0)">1</text>
<path d="M390.9,277.2 L390.9,288.6 M387.8,280.6 Q389.6,279.4 391.3,277.4" stroke="#000" stroke-width="2.1" fill="none" stroke-linecap="butt"/>
<text x="398.5" y="288.4" text-anchor="middle" class="lb" transform="translate(398.5,0) scale(0.92,1) translate(-398.5,0)">7</text>
<path d="M439.9,307 L439.9,318.4 M436.8,310.4 Q438.6,309.2 440.2,307.2" stroke="#000" stroke-width="2.1" fill="none" stroke-linecap="butt"/>
<text x="447.4" y="318.2" text-anchor="middle" class="lb" transform="translate(447.4,0) scale(0.92,1) translate(-447.4,0)">0</text>
<path d="M312,304.1 L312,315.5 M308.9,307.5 Q310.7,306.3 312.4,304.3" stroke="#000" stroke-width="2.1" fill="none" stroke-linecap="butt"/>
<path d="M349.9,312.4 L349.9,323.8 M346.8,315.8 Q348.6,314.6 350.2,312.6" stroke="#000" stroke-width="2.1" fill="none" stroke-linecap="butt"/>
<text x="357.4" y="323.6" text-anchor="middle" class="lb" transform="translate(357.4,0) scale(0.92,1) translate(-357.4,0)">4</text>
<path d="M296.2,398.4 L296.2,409.8 M293.1,401.8 Q294.9,400.6 296.6,398.6" stroke="#000" stroke-width="2.1" fill="none" stroke-linecap="butt"/>
<text x="303.8" y="409.6" text-anchor="middle" class="lb" transform="translate(303.8,0) scale(0.92,1) translate(-303.8,0)">8</text>
<path d="M343.9,409.8 L343.9,421.2 M340.8,413.2 Q342.6,412 344.3,410" stroke="#000" stroke-width="2.1" fill="none" stroke-linecap="butt"/>
<text x="351.5" y="421" text-anchor="middle" class="lb" transform="translate(351.5,0) scale(0.92,1) translate(-351.5,0)">4</text>
<path d="M2.4,414 L5.6,400.5 L9.5,402 L26,392 L32.5,403 L14.3,412.4 L15.9,418 Z" fill="#000" stroke="#000" stroke-width="1.2" stroke-linejoin="round"/>
<text x="0" y="0" transform="translate(33.5,400) rotate(-30)" class="fr">FR.</text>
<text x="425.3" y="397.6" text-anchor="middle" class="cp">Copyright</text>
<text x="424.7" y="405.8" text-anchor="middle" class="cp">Page design (c) 2004 - 2014 by ARI Network Services, Inc.</text>
</svg>
</body></html>
